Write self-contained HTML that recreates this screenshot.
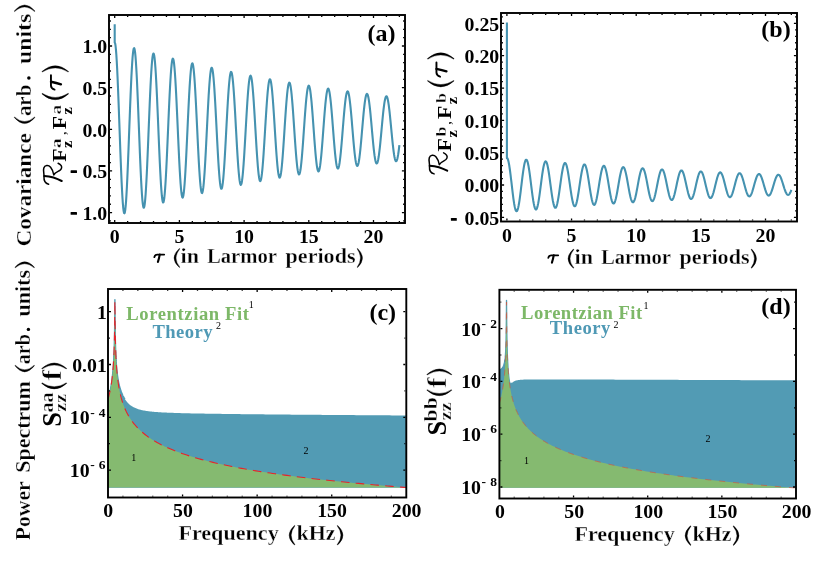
<!DOCTYPE html><html><head><meta charset="utf-8"><title>fig</title><style>html,body{margin:0;padding:0;background:#fff}</style></head><body><svg width="817" height="573" viewBox="0 0 817 573" style="display:block;will-change:transform;font-family:'Liberation Serif',serif;">
<rect width="817" height="573" fill="#fff"/>
<path d="M114.7 24.34 L114.7 42.67 L115.11 43.13 L115.51 45.49 L115.92 49.3 L116.33 54.48 L116.73 60.94 L117.14 68.55 L117.55 77.2 L117.95 86.72 L118.36 96.95 L118.77 107.71 L119.17 118.82 L119.58 130.07 L119.99 141.27 L120.39 152.24 L120.8 162.78 L121.21 172.71 L121.61 181.86 L122.02 190.07 L122.43 197.21 L122.83 203.16 L123.24 207.81 L123.65 211.09 L124.05 212.95 L124.46 213.36 L124.87 212.32 L125.27 209.84 L125.68 205.98 L126.09 200.8 L126.49 194.4 L126.9 186.9 L127.31 178.42 L127.71 169.12 L128.12 159.16 L128.53 148.7 L128.93 137.95 L129.34 127.08 L129.75 116.27 L130.15 105.72 L130.56 95.61 L130.97 86.12 L131.37 77.39 L131.78 69.59 L132.19 62.84 L132.59 57.26 L133 52.94 L133.41 49.96 L133.81 48.35 L134.22 48.15 L134.63 49.35 L135.03 51.93 L135.44 55.84 L135.85 61.01 L136.25 67.34 L136.66 74.72 L137.07 83.03 L137.47 92.11 L137.88 101.81 L138.29 111.96 L138.69 122.37 L139.1 132.88 L139.51 143.29 L139.91 153.44 L140.32 163.13 L140.73 172.21 L141.13 180.53 L141.54 187.93 L141.95 194.3 L142.35 199.53 L142.76 203.53 L143.17 206.24 L143.57 207.6 L143.98 207.61 L144.39 206.27 L144.79 203.6 L145.2 199.66 L145.61 194.5 L146.01 188.24 L146.42 180.98 L146.83 172.84 L147.23 163.98 L147.64 154.54 L148.05 144.69 L148.45 134.61 L148.86 124.46 L149.27 114.43 L149.67 104.68 L150.08 95.38 L150.49 86.7 L150.9 78.78 L151.3 71.76 L151.71 65.75 L152.12 60.85 L152.52 57.16 L152.93 54.72 L153.34 53.58 L153.74 53.75 L154.15 55.22 L154.56 57.97 L154.96 61.95 L155.37 67.07 L155.78 73.26 L156.18 80.4 L156.59 88.37 L157 97.01 L157.4 106.2 L157.81 115.75 L158.22 125.51 L158.62 135.31 L159.03 144.97 L159.44 154.34 L159.84 163.25 L160.25 171.54 L160.66 179.08 L161.06 185.74 L161.47 191.4 L161.88 195.98 L162.28 199.38 L162.69 201.57 L163.1 202.5 L163.5 202.17 L163.91 200.57 L164.32 197.75 L164.72 193.75 L165.13 188.65 L165.54 182.54 L165.94 175.53 L166.35 167.74 L166.76 159.31 L167.16 150.38 L167.57 141.11 L167.98 131.67 L168.38 122.21 L168.79 112.91 L169.2 103.91 L169.6 95.38 L170.01 87.46 L170.42 80.28 L170.82 73.97 L171.23 68.64 L171.64 64.37 L172.04 61.24 L172.45 59.29 L172.86 58.56 L173.26 59.05 L173.67 60.75 L174.08 63.64 L174.48 67.65 L174.89 72.71 L175.3 78.74 L175.7 85.62 L176.11 93.24 L176.52 101.46 L176.92 110.14 L177.33 119.13 L177.74 128.26 L178.14 137.38 L178.55 146.34 L178.96 154.98 L179.36 163.15 L179.77 170.71 L180.18 177.54 L180.58 183.51 L180.99 188.52 L181.4 192.5 L181.8 195.37 L182.21 197.1 L182.62 197.65 L183.02 197.01 L183.43 195.21 L183.84 192.27 L184.24 188.25 L184.65 183.22 L185.06 177.28 L185.46 170.53 L185.87 163.08 L186.28 155.07 L186.68 146.64 L187.09 137.93 L187.5 129.1 L187.9 120.3 L188.31 111.68 L188.72 103.38 L189.12 95.56 L189.53 88.35 L189.94 81.86 L190.34 76.22 L190.75 71.5 L191.16 67.8 L191.56 65.18 L191.97 63.67 L192.38 63.29 L192.78 64.06 L193.19 65.96 L193.6 68.94 L194 72.96 L194.41 77.94 L194.82 83.79 L195.22 90.42 L195.63 97.69 L196.04 105.5 L196.44 113.69 L196.85 122.12 L197.26 130.66 L197.66 139.15 L198.07 147.44 L198.48 155.4 L198.88 162.88 L199.29 169.76 L199.7 175.92 L200.1 181.26 L200.51 185.68 L200.92 189.12 L201.32 191.51 L201.73 192.82 L202.14 193.03 L202.54 192.14 L202.95 190.16 L203.36 187.14 L203.76 183.12 L204.17 178.19 L204.58 172.43 L204.98 165.94 L205.39 158.83 L205.8 151.24 L206.2 143.28 L206.61 135.11 L207.02 126.86 L207.42 118.68 L207.83 110.71 L208.24 103.08 L208.64 95.92 L209.05 89.36 L209.46 83.51 L209.86 78.47 L210.27 74.33 L210.68 71.14 L211.08 68.97 L211.49 67.85 L211.9 67.79 L212.3 68.8 L212.71 70.85 L213.12 73.9 L213.52 77.9 L213.93 82.78 L214.34 88.45 L214.74 94.81 L215.15 101.75 L215.56 109.14 L215.96 116.86 L216.37 124.77 L216.78 132.74 L217.18 140.62 L217.59 148.29 L218 155.61 L218.4 162.45 L218.81 168.69 L219.22 174.24 L219.62 179 L220.03 182.88 L220.44 185.83 L220.84 187.79 L221.25 188.73 L221.66 188.65 L222.07 187.53 L222.47 185.42 L222.88 182.34 L223.29 178.36 L223.69 173.53 L224.1 167.96 L224.51 161.73 L224.91 154.97 L225.32 147.77 L225.73 140.28 L226.13 132.63 L226.54 124.93 L226.95 117.34 L227.35 109.97 L227.76 102.96 L228.17 96.42 L228.57 90.47 L228.98 85.21 L229.39 80.73 L229.79 77.1 L230.2 74.38 L230.61 72.62 L231.01 71.84 L231.42 72.06 L231.83 73.27 L232.23 75.44 L232.64 78.54 L233.05 82.5 L233.45 87.26 L233.86 92.74 L234.27 98.83 L234.67 105.43 L235.08 112.43 L235.49 119.69 L235.89 127.1 L236.3 134.53 L236.71 141.84 L237.11 148.92 L237.52 155.64 L237.93 161.88 L238.33 167.54 L238.74 172.53 L239.15 176.75 L239.55 180.14 L239.96 182.64 L240.37 184.22 L240.77 184.84 L241.18 184.49 L241.59 183.2 L241.99 180.98 L242.4 177.87 L242.81 173.93 L243.21 169.23 L243.62 163.85 L244.03 157.89 L244.43 151.46 L244.84 144.66 L245.25 137.61 L245.65 130.44 L246.06 123.28 L246.47 116.23 L246.87 109.44 L247.28 103 L247.69 97.04 L248.09 91.66 L248.5 86.94 L248.91 82.97 L249.31 79.8 L249.72 77.51 L250.13 76.11 L250.53 75.64 L250.94 76.1 L251.35 77.47 L251.75 79.74 L252.16 82.86 L252.57 86.77 L252.97 91.4 L253.38 96.68 L253.79 102.5 L254.19 108.77 L254.6 115.38 L255.01 122.21 L255.41 129.14 L255.82 136.06 L256.23 142.83 L256.63 149.36 L257.04 155.52 L257.45 161.2 L257.85 166.32 L258.26 170.79 L258.67 174.52 L259.07 177.47 L259.48 179.57 L259.89 180.8 L260.29 181.13 L260.7 180.57 L261.11 179.12 L261.51 176.81 L261.92 173.69 L262.33 169.82 L262.73 165.25 L263.14 160.08 L263.55 154.38 L263.95 148.27 L264.36 141.86 L264.77 135.24 L265.17 128.54 L265.58 121.87 L265.99 115.35 L266.39 109.09 L266.8 103.2 L267.21 97.77 L267.61 92.91 L268.02 88.68 L268.43 85.18 L268.83 82.44 L269.24 80.53 L269.65 79.46 L270.05 79.26 L270.46 79.92 L270.87 81.43 L271.27 83.77 L271.68 86.88 L272.09 90.72 L272.49 95.22 L272.9 100.29 L273.31 105.85 L273.71 111.8 L274.12 118.03 L274.53 124.44 L274.93 130.92 L275.34 137.35 L275.75 143.62 L276.15 149.62 L276.56 155.26 L276.97 160.43 L277.37 165.05 L277.78 169.04 L278.19 172.33 L278.59 174.86 L279 176.61 L279.41 177.52 L279.81 177.61 L280.22 176.85 L280.63 175.28 L281.03 172.92 L281.44 169.81 L281.85 166.01 L282.25 161.58 L282.66 156.62 L283.07 151.19 L283.47 145.4 L283.88 139.35 L284.29 133.14 L284.69 126.88 L285.1 120.69 L285.51 114.66 L285.91 108.9 L286.32 103.51 L286.73 98.58 L287.13 94.2 L287.54 90.44 L287.95 87.36 L288.35 85.01 L288.76 83.43 L289.17 82.66 L289.57 82.69 L289.98 83.52 L290.39 85.15 L290.79 87.53 L291.2 90.63 L291.61 94.39 L292.01 98.74 L292.42 103.6 L292.83 108.9 L293.24 114.53 L293.64 120.41 L294.05 126.41 L294.46 132.46 L294.86 138.43 L295.27 144.22 L295.68 149.74 L296.08 154.89 L296.49 159.58 L296.9 163.74 L297.3 167.29 L297.71 170.17 L298.12 172.34 L298.52 173.76 L298.93 174.4 L299.34 174.27 L299.74 173.35 L300.15 171.68 L300.56 169.28 L300.96 166.2 L301.37 162.49 L301.78 158.21 L302.18 153.45 L302.59 148.28 L303 142.8 L303.4 137.11 L303.81 131.29 L304.22 125.46 L304.62 119.71 L305.03 114.14 L305.44 108.85 L305.84 103.93 L306.25 99.47 L306.66 95.53 L307.06 92.18 L307.47 89.49 L307.88 87.49 L308.28 86.22 L308.69 85.7 L309.1 85.94 L309.5 86.92 L309.91 88.63 L310.32 91.05 L310.72 94.11 L311.13 97.77 L311.54 101.97 L311.94 106.63 L312.35 111.67 L312.76 117 L313.16 122.52 L313.57 128.15 L313.98 133.77 L314.38 139.31 L314.79 144.66 L315.2 149.72 L315.6 154.42 L316.01 158.67 L316.42 162.4 L316.82 165.55 L317.23 168.06 L317.64 169.9 L318.04 171.02 L318.45 171.43 L318.86 171.1 L319.26 170.05 L319.67 168.31 L320.08 165.89 L320.48 162.84 L320.89 159.23 L321.3 155.11 L321.7 150.55 L322.11 145.65 L322.52 140.47 L322.92 135.11 L323.33 129.67 L323.74 124.24 L324.14 118.91 L324.55 113.78 L324.96 108.93 L325.36 104.45 L325.77 100.4 L326.18 96.87 L326.58 93.91 L326.99 91.57 L327.4 89.89 L327.8 88.9 L328.21 88.61 L328.62 89.02 L329.02 90.12 L329.43 91.9 L329.84 94.32 L330.24 97.34 L330.65 100.9 L331.06 104.94 L331.46 109.4 L331.87 114.18 L332.28 119.21 L332.68 124.4 L333.09 129.66 L333.5 134.9 L333.9 140.02 L334.31 144.95 L334.72 149.59 L335.12 153.87 L335.53 157.71 L335.94 161.05 L336.34 163.83 L336.75 166 L337.16 167.54 L337.56 168.41 L337.97 168.6 L338.38 168.11 L338.78 166.95 L339.19 165.15 L339.6 162.73 L340 159.73 L340.41 156.23 L340.82 152.26 L341.22 147.91 L341.63 143.26 L342.04 138.37 L342.44 133.34 L342.85 128.26 L343.26 123.21 L343.66 118.28 L344.07 113.55 L344.48 109.11 L344.88 105.03 L345.29 101.39 L345.7 98.23 L346.1 95.62 L346.51 93.6 L346.92 92.21 L347.32 91.46 L347.73 91.36 L348.14 91.92 L348.54 93.13 L348.95 94.96 L349.36 97.37 L349.76 100.33 L350.17 103.79 L350.58 107.67 L350.98 111.92 L351.39 116.45 L351.8 121.19 L352.2 126.06 L352.61 130.97 L353.02 135.84 L353.42 140.58 L353.83 145.12 L354.24 149.36 L354.64 153.25 L355.05 156.71 L355.46 159.69 L355.86 162.13 L356.27 164 L356.68 165.27 L357.08 165.91 L357.49 165.91 L357.9 165.28 L358.3 164.04 L358.71 162.19 L359.12 159.78 L359.52 156.85 L359.93 153.46 L360.34 149.66 L360.74 145.51 L361.15 141.1 L361.56 136.5 L361.96 131.78 L362.37 127.04 L362.78 122.35 L363.18 117.79 L363.59 113.44 L364 109.39 L364.41 105.68 L364.81 102.4 L365.22 99.59 L365.63 97.3 L366.03 95.57 L366.44 94.43 L366.85 93.9 L367.25 93.98 L367.66 94.67 L368.07 95.95 L368.47 97.81 L368.88 100.21 L369.29 103.1 L369.69 106.44 L370.1 110.16 L370.51 114.21 L370.91 118.5 L371.32 122.97 L371.73 127.53 L372.13 132.11 L372.54 136.63 L372.95 141.01 L373.35 145.17 L373.76 149.05 L374.17 152.57 L374.57 155.69 L374.98 158.33 L375.39 160.47 L375.79 162.06 L376.2 163.09 L376.61 163.52 L377.01 163.36 L377.42 162.62 L377.83 161.3 L378.23 159.43 L378.64 157.05 L379.05 154.19 L379.45 150.91 L379.86 147.27 L380.27 143.33 L380.67 139.15 L381.08 134.82 L381.49 130.41 L381.89 125.99 L382.3 121.64 L382.71 117.43 L383.11 113.44 L383.52 109.74 L383.93 106.38 L384.33 103.44 L384.74 100.94 L385.15 98.95 L385.55 97.48 L385.96 96.57 L386.37 96.23 L386.77 96.46 L387.18 97.25 L387.59 98.6 L387.99 100.48 L388.4 102.85 L388.81 105.66 L389.21 108.88 L389.62 112.44 L390.03 116.29 L390.43 120.34 L390.84 124.54 L391.25 128.81 L391.65 133.08 L392.06 137.27 L392.47 141.31 L392.87 145.13 L393.28 148.66 L393.69 151.85 L394.09 154.64 L394.5 156.99 L394.91 158.85 L395.31 160.19 L395.72 161 L396.13 161.25 L396.53 160.95 L396.94 160.11 L397.35 158.74 L397.75 156.86 L398.16 154.51 L398.57 151.73 L398.97 148.57 L399.38 145.09" fill="none" stroke="#4592b0" stroke-width="2.1" stroke-linejoin="round" stroke-linecap="butt"/>
<rect x="109" y="15" width="296" height="208" fill="none" stroke="#000" stroke-width="1.9"/>
<path d="M127.64 222v-1M127.64 16v1M140.58 222v-1M140.58 16v1M153.52 222v-1M153.52 16v1M166.46 222v-1M166.46 16v1M192.34 222v-1M192.34 16v1M205.28 222v-1M205.28 16v1M218.22 222v-1M218.22 16v1M231.16 222v-1M231.16 16v1M257.04 222v-1M257.04 16v1M269.98 222v-1M269.98 16v1M282.92 222v-1M282.92 16v1M295.86 222v-1M295.86 16v1M321.74 222v-1M321.74 16v1M334.68 222v-1M334.68 16v1M347.62 222v-1M347.62 16v1M360.56 222v-1M360.56 16v1M386.44 222v-1M386.44 16v1M399.38 222v-1M399.38 16v1" stroke="#000" stroke-width="1.3" fill="none"/>
<path d="M114.7 222v-2.1M114.7 16v2.1M179.4 222v-2.1M179.4 16v2.1M244.1 222v-2.1M244.1 16v2.1M308.8 222v-2.1M308.8 16v2.1M373.5 222v-2.1M373.5 16v2.1" stroke="#000" stroke-width="1.3" fill="none"/>
<path d="M110 220.93h0.9M404 220.93h-0.9M110 204.27h0.9M404 204.27h-0.9M110 195.94h0.9M404 195.94h-0.9M110 187.61h0.9M404 187.61h-0.9M110 179.28h0.9M404 179.28h-0.9M110 162.62h0.9M404 162.62h-0.9M110 154.29h0.9M404 154.29h-0.9M110 145.96h0.9M404 145.96h-0.9M110 137.63h0.9M404 137.63h-0.9M110 120.97h0.9M404 120.97h-0.9M110 112.64h0.9M404 112.64h-0.9M110 104.31h0.9M404 104.31h-0.9M110 95.98h0.9M404 95.98h-0.9M110 79.32h0.9M404 79.32h-0.9M110 70.99h0.9M404 70.99h-0.9M110 62.66h0.9M404 62.66h-0.9M110 54.33h0.9M404 54.33h-0.9M110 37.67h0.9M404 37.67h-0.9M110 29.34h0.9M404 29.34h-0.9M110 21.01h0.9M404 21.01h-0.9" stroke="#000" stroke-width="1.3" fill="none"/>
<path d="M110 212.6h2.1M404 212.6h-2.1M110 170.95h2.1M404 170.95h-2.1M110 129.3h2.1M404 129.3h-2.1M110 87.65h2.1M404 87.65h-2.1M110 46h2.1M404 46h-2.1" stroke="#000" stroke-width="1.3" fill="none"/>
<text x="114.7" y="243" font-size="19.8" font-weight="bold" text-anchor="middle" fill="#000"  style="">0</text>
<text x="179.4" y="243" font-size="19.8" font-weight="bold" text-anchor="middle" fill="#000"  style="">5</text>
<text x="244.1" y="243" font-size="19.8" font-weight="bold" text-anchor="middle" fill="#000"  style="">10</text>
<text x="308.8" y="243" font-size="19.8" font-weight="bold" text-anchor="middle" fill="#000"  style="">15</text>
<text x="373.5" y="243" font-size="19.8" font-weight="bold" text-anchor="middle" fill="#000"  style="">20</text>
<text x="107.2" y="53.2" font-size="19.8" font-weight="bold" text-anchor="end" fill="#000"  style="">1.0</text>
<text x="107.2" y="94.85" font-size="19.8" font-weight="bold" text-anchor="end" fill="#000"  style="">0.5</text>
<text x="107.2" y="136.5" font-size="19.8" font-weight="bold" text-anchor="end" fill="#000"  style="">0.0</text>
<text x="107.2" y="178.15" font-size="19.8" font-weight="bold" text-anchor="end" fill="#000"  style="">0.5</text>
<rect x="70.6" y="170.35" width="6.4" height="2.7" rx="0.5" fill="#000"/>
<text x="107.2" y="219.8" font-size="19.8" font-weight="bold" text-anchor="end" fill="#000"  style="">1.0</text>
<rect x="70.6" y="212" width="6.4" height="2.7" rx="0.5" fill="#000"/>
<text x="381.4" y="41.3" font-size="24" font-weight="bold" text-anchor="middle" fill="#000"  style="">(a)</text>
<path d="M506.9 22.41 L506.9 158.17 L507.31 158.12 L507.71 158.86 L508.12 160.05 L508.53 161.66 L508.93 163.68 L509.34 166.05 L509.74 168.75 L510.15 171.72 L510.56 174.91 L510.96 178.27 L511.37 181.73 L511.78 185.24 L512.18 188.73 L512.59 192.15 L513 195.44 L513.4 198.54 L513.81 201.39 L514.21 203.95 L514.62 206.18 L515.03 208.04 L515.43 209.49 L515.84 210.51 L516.25 211.09 L516.65 211.22 L517.06 210.89 L517.47 210.12 L517.87 208.91 L518.28 207.3 L518.68 205.3 L519.09 202.96 L519.5 200.32 L519.9 197.42 L520.31 194.31 L520.72 191.05 L521.12 187.7 L521.53 184.31 L521.94 180.94 L522.34 177.65 L522.75 174.5 L523.15 171.53 L523.56 168.81 L523.97 166.38 L524.37 164.28 L524.78 162.54 L525.19 161.19 L525.59 160.26 L526 159.76 L526.41 159.7 L526.81 160.07 L527.22 160.87 L527.62 162.09 L528.03 163.7 L528.44 165.68 L528.84 167.98 L529.25 170.57 L529.66 173.4 L530.06 176.43 L530.47 179.59 L530.88 182.84 L531.28 186.12 L531.69 189.36 L532.1 192.53 L532.5 195.55 L532.91 198.38 L533.31 200.97 L533.72 203.28 L534.13 205.27 L534.53 206.9 L534.94 208.14 L535.35 208.99 L535.75 209.41 L536.16 209.42 L536.57 209 L536.97 208.17 L537.38 206.93 L537.78 205.33 L538.19 203.38 L538.6 201.11 L539 198.58 L539.41 195.81 L539.82 192.87 L540.22 189.8 L540.63 186.65 L541.04 183.49 L541.44 180.36 L541.85 177.32 L542.25 174.43 L542.66 171.72 L543.07 169.25 L543.47 167.06 L543.88 165.19 L544.29 163.66 L544.69 162.51 L545.1 161.75 L545.51 161.39 L545.91 161.45 L546.32 161.91 L546.72 162.77 L547.13 164 L547.54 165.6 L547.94 167.53 L548.35 169.76 L548.76 172.24 L549.16 174.94 L549.57 177.8 L549.98 180.78 L550.38 183.82 L550.79 186.87 L551.19 189.89 L551.6 192.8 L552.01 195.58 L552.41 198.17 L552.82 200.52 L553.23 202.59 L553.63 204.36 L554.04 205.78 L554.45 206.84 L554.85 207.53 L555.26 207.82 L555.66 207.71 L556.07 207.21 L556.48 206.33 L556.88 205.09 L557.29 203.5 L557.7 201.59 L558.1 199.41 L558.51 196.98 L558.92 194.35 L559.32 191.57 L559.73 188.68 L560.13 185.74 L560.54 182.79 L560.95 179.89 L561.35 177.09 L561.76 174.43 L562.17 171.96 L562.57 169.72 L562.98 167.76 L563.39 166.1 L563.79 164.77 L564.2 163.79 L564.6 163.18 L565.01 162.95 L565.42 163.11 L565.82 163.64 L566.23 164.54 L566.64 165.79 L567.04 167.37 L567.45 169.24 L567.86 171.39 L568.26 173.76 L568.67 176.33 L569.07 179.03 L569.48 181.83 L569.89 184.68 L570.29 187.52 L570.7 190.31 L571.11 193 L571.51 195.55 L571.92 197.9 L572.33 200.03 L572.73 201.89 L573.14 203.45 L573.54 204.69 L573.95 205.59 L574.36 206.12 L574.76 206.3 L575.17 206.1 L575.58 205.53 L575.98 204.62 L576.39 203.37 L576.8 201.8 L577.2 199.95 L577.61 197.85 L578.01 195.52 L578.42 193.03 L578.83 190.4 L579.23 187.69 L579.64 184.94 L580.05 182.19 L580.45 179.51 L580.86 176.93 L581.27 174.49 L581.67 172.24 L582.08 170.22 L582.49 168.46 L582.89 166.99 L583.3 165.84 L583.7 165.02 L584.11 164.55 L584.52 164.44 L584.92 164.68 L585.33 165.27 L585.74 166.2 L586.14 167.45 L586.55 169 L586.96 170.82 L587.36 172.89 L587.77 175.15 L588.17 177.58 L588.58 180.14 L588.99 182.76 L589.39 185.42 L589.8 188.07 L590.21 190.65 L590.61 193.13 L591.02 195.46 L591.43 197.6 L591.83 199.52 L592.24 201.18 L592.64 202.56 L593.05 203.63 L593.46 204.38 L593.86 204.79 L594.27 204.85 L594.68 204.57 L595.08 203.96 L595.49 203.01 L595.9 201.76 L596.3 200.23 L596.71 198.43 L597.11 196.41 L597.52 194.2 L597.93 191.83 L598.33 189.36 L598.74 186.81 L599.15 184.24 L599.55 181.69 L599.96 179.21 L600.37 176.83 L600.77 174.6 L601.18 172.56 L601.58 170.74 L601.99 169.17 L602.4 167.88 L602.8 166.89 L603.21 166.21 L603.62 165.86 L604.02 165.84 L604.43 166.16 L604.84 166.8 L605.24 167.75 L605.65 168.99 L606.05 170.51 L606.46 172.28 L606.87 174.26 L607.27 176.42 L607.68 178.72 L608.09 181.13 L608.49 183.59 L608.9 186.07 L609.31 188.53 L609.71 190.91 L610.12 193.19 L610.52 195.32 L610.93 197.27 L611.34 198.99 L611.74 200.48 L612.15 201.68 L612.56 202.6 L612.96 203.21 L613.37 203.51 L613.78 203.48 L614.18 203.13 L614.59 202.47 L614.99 201.52 L615.4 200.27 L615.81 198.77 L616.21 197.04 L616.62 195.1 L617.03 192.99 L617.43 190.75 L617.84 188.42 L618.25 186.04 L618.65 183.64 L619.06 181.27 L619.46 178.98 L619.87 176.8 L620.28 174.76 L620.68 172.91 L621.09 171.27 L621.5 169.88 L621.9 168.75 L622.31 167.9 L622.72 167.35 L623.12 167.11 L623.53 167.18 L623.93 167.55 L624.34 168.23 L624.75 169.2 L625.15 170.43 L625.56 171.91 L625.97 173.62 L626.37 175.51 L626.78 177.57 L627.19 179.75 L627.59 182.01 L628 184.32 L628.41 186.63 L628.81 188.9 L629.22 191.11 L629.62 193.2 L630.03 195.14 L630.44 196.91 L630.84 198.46 L631.25 199.77 L631.66 200.83 L632.06 201.61 L632.47 202.09 L632.88 202.29 L633.28 202.18 L633.69 201.78 L634.09 201.09 L634.5 200.12 L634.91 198.89 L635.31 197.43 L635.72 195.75 L636.13 193.9 L636.53 191.9 L636.94 189.78 L637.35 187.59 L637.75 185.36 L638.16 183.13 L638.56 180.93 L638.97 178.82 L639.38 176.82 L639.78 174.96 L640.19 173.28 L640.6 171.82 L641 170.58 L641.41 169.59 L641.82 168.88 L642.22 168.45 L642.63 168.3 L643.03 168.44 L643.44 168.87 L643.85 169.58 L644.25 170.55 L644.66 171.76 L645.07 173.21 L645.47 174.85 L645.88 176.66 L646.29 178.61 L646.69 180.67 L647.1 182.79 L647.5 184.95 L647.91 187.1 L648.32 189.21 L648.72 191.24 L649.13 193.16 L649.54 194.93 L649.94 196.52 L650.35 197.91 L650.76 199.07 L651.16 199.99 L651.57 200.64 L651.97 201.02 L652.38 201.13 L652.79 200.95 L653.19 200.5 L653.6 199.78 L654.01 198.81 L654.41 197.61 L654.82 196.19 L655.23 194.58 L655.63 192.81 L656.04 190.9 L656.44 188.91 L656.85 186.85 L657.26 184.76 L657.66 182.69 L658.07 180.66 L658.48 178.71 L658.88 176.88 L659.29 175.19 L659.7 173.68 L660.1 172.36 L660.51 171.27 L660.91 170.42 L661.32 169.82 L661.73 169.49 L662.13 169.43 L662.54 169.64 L662.95 170.11 L663.35 170.83 L663.76 171.8 L664.17 173 L664.57 174.4 L664.98 175.98 L665.38 177.7 L665.79 179.56 L666.2 181.49 L666.6 183.49 L667.01 185.5 L667.42 187.5 L667.82 189.45 L668.23 191.32 L668.64 193.08 L669.04 194.69 L669.45 196.12 L669.85 197.36 L670.26 198.39 L670.67 199.17 L671.07 199.72 L671.48 200 L671.89 200.03 L672.29 199.79 L672.7 199.3 L673.11 198.57 L673.51 197.6 L673.92 196.42 L674.33 195.04 L674.73 193.5 L675.14 191.81 L675.54 190.01 L675.95 188.13 L676.36 186.19 L676.76 184.25 L677.17 182.32 L677.58 180.45 L677.98 178.65 L678.39 176.98 L678.8 175.45 L679.2 174.08 L679.61 172.91 L680.01 171.95 L680.42 171.22 L680.83 170.73 L681.23 170.49 L681.64 170.5 L682.05 170.76 L682.45 171.27 L682.86 172.01 L683.27 172.97 L683.67 174.14 L684.08 175.49 L684.48 177.01 L684.89 178.66 L685.3 180.41 L685.7 182.23 L686.11 184.1 L686.52 185.98 L686.92 187.84 L687.33 189.64 L687.74 191.36 L688.14 192.96 L688.55 194.42 L688.95 195.71 L689.36 196.81 L689.77 197.71 L690.17 198.38 L690.58 198.83 L690.99 199.03 L691.39 198.98 L691.8 198.7 L692.21 198.18 L692.61 197.43 L693.02 196.47 L693.42 195.32 L693.83 193.99 L694.24 192.51 L694.64 190.9 L695.05 189.2 L695.46 187.43 L695.86 185.62 L696.27 183.81 L696.68 182.02 L697.08 180.29 L697.49 178.64 L697.89 177.11 L698.3 175.72 L698.71 174.5 L699.11 173.46 L699.52 172.62 L699.93 172 L700.33 171.61 L700.74 171.44 L701.15 171.52 L701.55 171.82 L701.96 172.36 L702.36 173.11 L702.77 174.06 L703.18 175.2 L703.58 176.5 L703.99 177.95 L704.4 179.52 L704.8 181.17 L705.21 182.89 L705.62 184.64 L706.02 186.39 L706.43 188.11 L706.83 189.77 L707.24 191.35 L707.65 192.81 L708.05 194.13 L708.46 195.29 L708.87 196.27 L709.27 197.05 L709.68 197.62 L710.09 197.97 L710.49 198.1 L710.9 198 L711.3 197.67 L711.71 197.13 L712.12 196.37 L712.52 195.43 L712.93 194.3 L713.34 193.02 L713.74 191.61 L714.15 190.08 L714.56 188.47 L714.96 186.81 L715.37 185.12 L715.77 183.43 L716.18 181.77 L716.59 180.18 L716.99 178.67 L717.4 177.27 L717.81 176.02 L718.21 174.92 L718.62 174 L719.03 173.27 L719.43 172.75 L719.84 172.44 L720.25 172.35 L720.65 172.48 L721.06 172.82 L721.46 173.38 L721.87 174.13 L722.28 175.07 L722.68 176.17 L723.09 177.43 L723.5 178.81 L723.9 180.3 L724.31 181.86 L724.72 183.48 L725.12 185.11 L725.53 186.74 L725.93 188.33 L726.34 189.86 L726.75 191.31 L727.15 192.64 L727.56 193.83 L727.97 194.87 L728.37 195.73 L728.78 196.41 L729.19 196.88 L729.59 197.15 L730 197.21 L730.4 197.06 L730.81 196.7 L731.22 196.14 L731.62 195.39 L732.03 194.46 L732.44 193.37 L732.84 192.14 L733.25 190.78 L733.66 189.34 L734.06 187.82 L734.47 186.26 L734.87 184.68 L735.28 183.11 L735.69 181.57 L736.09 180.11 L736.5 178.73 L736.91 177.46 L737.31 176.33 L737.72 175.35 L738.13 174.54 L738.53 173.91 L738.94 173.47 L739.34 173.24 L739.75 173.21 L740.16 173.39 L740.56 173.76 L740.97 174.33 L741.38 175.08 L741.78 176 L742.19 177.07 L742.6 178.28 L743 179.6 L743.41 181.01 L743.81 182.48 L744.22 183.99 L744.63 185.52 L745.03 187.03 L745.44 188.51 L745.85 189.91 L746.25 191.23 L746.66 192.44 L747.07 193.52 L747.47 194.44 L747.88 195.2 L748.28 195.78 L748.69 196.17 L749.1 196.37 L749.5 196.37 L749.91 196.18 L750.32 195.79 L750.72 195.22 L751.13 194.47 L751.54 193.56 L751.94 192.51 L752.35 191.32 L752.75 190.04 L753.16 188.67 L753.57 187.24 L753.97 185.77 L754.38 184.3 L754.79 182.84 L755.19 181.42 L755.6 180.07 L756.01 178.81 L756.41 177.66 L756.82 176.64 L757.22 175.77 L757.63 175.06 L758.04 174.52 L758.44 174.17 L758.85 174 L759.26 174.03 L759.66 174.24 L760.07 174.64 L760.48 175.22 L760.88 175.96 L761.29 176.86 L761.69 177.9 L762.1 179.06 L762.51 180.31 L762.91 181.64 L763.32 183.03 L763.73 184.45 L764.13 185.87 L764.54 187.28 L764.95 188.64 L765.35 189.93 L765.76 191.13 L766.16 192.23 L766.57 193.2 L766.98 194.02 L767.38 194.68 L767.79 195.18 L768.2 195.49 L768.6 195.63 L769.01 195.58 L769.42 195.35 L769.82 194.94 L770.23 194.36 L770.64 193.62 L771.04 192.73 L771.45 191.71 L771.85 190.58 L772.26 189.36 L772.67 188.06 L773.07 186.72 L773.48 185.34 L773.89 183.97 L774.29 182.62 L774.7 181.31 L775.11 180.07 L775.51 178.92 L775.92 177.88 L776.32 176.97 L776.73 176.19 L777.14 175.57 L777.54 175.12 L777.95 174.84 L778.36 174.73 L778.76 174.8 L779.17 175.05 L779.58 175.47 L779.98 176.05 L780.39 176.79 L780.79 177.66 L781.2 178.66 L781.61 179.77 L782.01 180.96 L782.42 182.22 L782.83 183.52 L783.23 184.85 L783.64 186.17 L784.05 187.47 L784.45 188.73 L784.86 189.91 L785.26 191.01 L785.67 192 L786.08 192.87 L786.48 193.6 L786.89 194.17 L787.3 194.59 L787.7 194.84 L788.11 194.92 L788.52 194.83 L788.92 194.57 L789.33 194.14 L789.73 193.56 L790.14 192.83 L790.55 191.96 L790.95 190.98 L791.36 189.9" fill="none" stroke="#4592b0" stroke-width="2.1" stroke-linejoin="round"/>
<rect x="501" y="13" width="296" height="208.5" fill="none" stroke="#000" stroke-width="1.9"/>
<path d="M519.83 220.5v-1M519.83 14v1M532.76 220.5v-1M532.76 14v1M545.69 220.5v-1M545.69 14v1M558.62 220.5v-1M558.62 14v1M584.48 220.5v-1M584.48 14v1M597.41 220.5v-1M597.41 14v1M610.34 220.5v-1M610.34 14v1M623.27 220.5v-1M623.27 14v1M649.13 220.5v-1M649.13 14v1M662.06 220.5v-1M662.06 14v1M674.99 220.5v-1M674.99 14v1M687.92 220.5v-1M687.92 14v1M713.78 220.5v-1M713.78 14v1M726.71 220.5v-1M726.71 14v1M739.64 220.5v-1M739.64 14v1M752.57 220.5v-1M752.57 14v1M778.43 220.5v-1M778.43 14v1M791.36 220.5v-1M791.36 14v1" stroke="#000" stroke-width="1.3" fill="none"/>
<path d="M506.9 220.5v-2.1M506.9 14v2.1M571.55 220.5v-2.1M571.55 14v2.1M636.2 220.5v-2.1M636.2 14v2.1M700.85 220.5v-2.1M700.85 14v2.1M765.5 220.5v-2.1M765.5 14v2.1" stroke="#000" stroke-width="1.3" fill="none"/>
<path d="M502 210.86h0.9M796 210.86h-0.9M502 204.4h0.9M796 204.4h-0.9M502 197.93h0.9M796 197.93h-0.9M502 191.47h0.9M796 191.47h-0.9M502 178.53h0.9M796 178.53h-0.9M502 172.07h0.9M796 172.07h-0.9M502 165.6h0.9M796 165.6h-0.9M502 159.14h0.9M796 159.14h-0.9M502 146.21h0.9M796 146.21h-0.9M502 139.75h0.9M796 139.75h-0.9M502 133.28h0.9M796 133.28h-0.9M502 126.81h0.9M796 126.81h-0.9M502 113.89h0.9M796 113.89h-0.9M502 107.42h0.9M796 107.42h-0.9M502 100.95h0.9M796 100.95h-0.9M502 94.49h0.9M796 94.49h-0.9M502 81.56h0.9M796 81.56h-0.9M502 75.09h0.9M796 75.09h-0.9M502 68.63h0.9M796 68.63h-0.9M502 62.16h0.9M796 62.16h-0.9M502 49.24h0.9M796 49.24h-0.9M502 42.77h0.9M796 42.77h-0.9M502 36.31h0.9M796 36.31h-0.9M502 29.84h0.9M796 29.84h-0.9M502 16.91h0.9M796 16.91h-0.9" stroke="#000" stroke-width="1.3" fill="none"/>
<path d="M502 217.32h2.1M796 217.32h-2.1M502 185h2.1M796 185h-2.1M502 152.68h2.1M796 152.68h-2.1M502 120.35h2.1M796 120.35h-2.1M502 88.03h2.1M796 88.03h-2.1M502 55.7h2.1M796 55.7h-2.1M502 23.38h2.1M796 23.38h-2.1" stroke="#000" stroke-width="1.3" fill="none"/>
<text x="506.9" y="242.3" font-size="19.8" font-weight="bold" text-anchor="middle" fill="#000"  style="">0</text>
<text x="571.55" y="242.3" font-size="19.8" font-weight="bold" text-anchor="middle" fill="#000"  style="">5</text>
<text x="636.2" y="242.3" font-size="19.8" font-weight="bold" text-anchor="middle" fill="#000"  style="">10</text>
<text x="700.85" y="242.3" font-size="19.8" font-weight="bold" text-anchor="middle" fill="#000"  style="">15</text>
<text x="765.5" y="242.3" font-size="19.8" font-weight="bold" text-anchor="middle" fill="#000"  style="">20</text>
<text x="499.2" y="30.68" font-size="19.8" font-weight="bold" text-anchor="end" fill="#000"  style="">0.25</text>
<text x="499.2" y="63" font-size="19.8" font-weight="bold" text-anchor="end" fill="#000"  style="">0.20</text>
<text x="499.2" y="95.33" font-size="19.8" font-weight="bold" text-anchor="end" fill="#000"  style="">0.15</text>
<text x="499.2" y="127.65" font-size="19.8" font-weight="bold" text-anchor="end" fill="#000"  style="">0.10</text>
<text x="499.2" y="159.98" font-size="19.8" font-weight="bold" text-anchor="end" fill="#000"  style="">0.05</text>
<text x="499.2" y="192.3" font-size="19.8" font-weight="bold" text-anchor="end" fill="#000"  style="">0.00</text>
<text x="499.2" y="224.62" font-size="19.8" font-weight="bold" text-anchor="end" fill="#000"  style="">0.05</text>
<rect x="450.9" y="218.02" width="5.9" height="2.7" rx="0.5" fill="#000"/>
<text x="776" y="37.3" font-size="24" font-weight="bold" text-anchor="middle" fill="#000"  style="">(b)</text>
<path d="M154.3 257.2 Q154.96 254.6 157.08 254.6 L164.2 254.6" fill="none" stroke="#000" stroke-width="1.8" stroke-linecap="round"/><path d="M159.73 254.6 Q158.99 258.76 157.93 261.95" fill="none" stroke="#000" stroke-width="2.1" stroke-linecap="round"/>
<g transform="translate(0 262.9)"><path d="M179.35 -14.5 Q168.65 -4.95 179.35 4.6 L179.9 4.25 Q172.21 -4.95 179.9 -14.15Z" fill="#000" stroke="#000" stroke-width="0.35" stroke-linejoin="round"/></g>
<text x="180.5" y="262.9" font-size="20" font-weight="bold" fill="#000" stroke="#fff" stroke-width="0.3" textLength="18.4" lengthAdjust="spacingAndGlyphs" style="">in</text>
<text x="206.9" y="262.9" font-size="20" font-weight="bold" fill="#000" stroke="#fff" stroke-width="0.3" textLength="70.1" lengthAdjust="spacingAndGlyphs" style="">Larmor</text>
<text x="285.6" y="262.9" font-size="20" font-weight="bold" fill="#000" stroke="#fff" stroke-width="0.3" textLength="69.9" lengthAdjust="spacingAndGlyphs" style="">periods</text>
<g transform="translate(0 262.9)"><path d="M357.65 -14.5 Q367.35 -4.95 357.65 4.6 L357.1 4.25 Q363.78 -4.95 357.1 -14.15Z" fill="#000" stroke="#000" stroke-width="0.35" stroke-linejoin="round"/></g>
<path d="M548.3 257.9 Q548.96 255.3 551.08 255.3 L558.2 255.3" fill="none" stroke="#000" stroke-width="1.8" stroke-linecap="round"/><path d="M553.73 255.3 Q552.99 259.46 551.93 262.66" fill="none" stroke="#000" stroke-width="2.1" stroke-linecap="round"/>
<g transform="translate(0 263.6)"><path d="M573.35 -14.5 Q562.65 -4.95 573.35 4.6 L573.9 4.25 Q566.22 -4.95 573.9 -14.15Z" fill="#000" stroke="#000" stroke-width="0.35" stroke-linejoin="round"/></g>
<text x="574.5" y="263.6" font-size="20" font-weight="bold" fill="#000" stroke="#fff" stroke-width="0.3" textLength="18.4" lengthAdjust="spacingAndGlyphs" style="">in</text>
<text x="600.9" y="263.6" font-size="20" font-weight="bold" fill="#000" stroke="#fff" stroke-width="0.3" textLength="70.1" lengthAdjust="spacingAndGlyphs" style="">Larmor</text>
<text x="679.6" y="263.6" font-size="20" font-weight="bold" fill="#000" stroke="#fff" stroke-width="0.3" textLength="69.9" lengthAdjust="spacingAndGlyphs" style="">periods</text>
<g transform="translate(0 263.6)"><path d="M751.65 -14.5 Q761.35 -4.95 751.65 4.6 L751.1 4.25 Q757.78 -4.95 751.1 -14.15Z" fill="#000" stroke="#000" stroke-width="0.35" stroke-linejoin="round"/></g>
<clipPath id="cc"><rect x="108" y="289" width="298.3" height="208.5"/></clipPath>
<g clip-path="url(#cc)">
<path d="M108 487.8 L108 399.09 L108.28 398.12 L108.57 397.12 L108.85 396.07 L109.13 394.97 L109.42 393.82 L109.7 392.61 L109.98 391.32 L110.27 389.96 L110.55 388.52 L110.83 386.98 L111.12 385.32 L111.4 383.54 L111.68 381.61 L111.97 379.5 L112.25 377.18 L112.53 374.59 L112.82 371.68 L113.1 368.34 L113.38 364.43 L113.67 359.73 L113.68 359.52 L113.69 359.31 L113.7 359.1 L113.71 358.89 L113.72 358.67 L113.73 358.45 L113.75 358.24 L113.76 358.01 L113.77 357.79 L113.78 357.57 L113.79 357.34 L113.8 357.11 L113.81 356.88 L113.82 356.64 L113.84 356.41 L113.85 356.17 L113.86 355.92 L113.87 355.68 L113.88 355.43 L113.89 355.18 L113.9 354.93 L113.91 354.68 L113.92 354.42 L113.94 354.16 L113.95 353.89 L113.96 353.63 L113.97 353.36 L113.98 353.08 L113.99 352.81 L114 352.53 L114.01 352.24 L114.03 351.96 L114.04 351.67 L114.05 351.37 L114.06 351.07 L114.07 350.77 L114.08 350.47 L114.09 350.16 L114.1 349.84 L114.12 349.52 L114.13 349.2 L114.14 348.87 L114.15 348.54 L114.16 348.21 L114.17 347.86 L114.18 347.52 L114.19 347.16 L114.2 346.81 L114.22 346.44 L114.23 346.08 L114.24 345.7 L114.25 345.32 L114.26 344.93 L114.27 344.54 L114.28 344.14 L114.29 343.73 L114.31 343.32 L114.32 342.89 L114.33 342.47 L114.34 342.03 L114.35 341.58 L114.36 341.13 L114.37 340.66 L114.38 340.19 L114.39 339.71 L114.41 339.21 L114.42 338.71 L114.43 338.2 L114.44 337.67 L114.45 337.13 L114.46 336.58 L114.47 336.02 L114.48 335.45 L114.5 334.86 L114.51 334.25 L114.52 333.63 L114.53 332.99 L114.54 332.34 L114.55 331.67 L114.56 330.97 L114.57 330.26 L114.58 329.53 L114.6 328.77 L114.61 328 L114.62 327.19 L114.63 326.36 L114.64 325.5 L114.65 324.62 L114.66 323.7 L114.67 322.75 L114.69 321.76 L114.7 320.74 L114.71 319.68 L114.72 318.57 L114.73 317.43 L114.74 316.24 L114.75 315 L114.76 313.72 L114.78 312.39 L114.79 311.02 L114.8 309.61 L114.81 308.17 L114.82 306.72 L114.83 305.28 L114.84 303.87 L114.85 302.53 L114.86 301.34 L114.88 300.33 L114.89 299.59 L114.9 299.2 L114.91 299.2 L114.92 299.2 L114.93 299.2 L114.94 299.32 L114.95 300.69 L114.97 302.21 L114.98 303.81 L114.99 305.44 L115 307.06 L115.01 308.65 L115.02 310.19 L115.03 311.68 L115.04 313.11 L115.05 314.49 L115.07 315.8 L115.08 317.06 L115.09 318.27 L115.1 319.43 L115.11 320.54 L115.12 321.61 L115.13 322.64 L115.14 323.62 L115.16 324.57 L115.17 325.49 L115.18 326.37 L115.19 327.23 L115.2 328.05 L115.21 328.85 L115.22 329.62 L115.23 330.37 L115.24 331.09 L115.26 331.8 L115.27 332.48 L115.28 333.15 L115.29 333.79 L115.3 334.42 L115.31 335.04 L115.32 335.63 L115.33 336.22 L115.35 336.79 L115.36 337.34 L115.37 337.88 L115.38 338.41 L115.39 338.93 L115.4 339.44 L115.41 339.93 L115.42 340.42 L115.44 340.89 L115.45 341.36 L115.46 341.81 L115.47 342.26 L115.48 342.7 L115.49 343.13 L115.5 343.55 L115.51 343.96 L115.52 344.37 L115.54 344.77 L115.55 345.16 L115.56 345.55 L115.57 345.92 L115.58 346.3 L115.59 346.66 L115.6 347.02 L115.61 347.38 L115.63 347.73 L115.64 348.07 L115.65 348.41 L115.66 348.74 L115.67 349.07 L115.68 349.4 L115.69 349.71 L115.7 350.03 L115.71 350.34 L115.73 350.64 L115.74 350.95 L115.75 351.24 L115.76 351.54 L115.77 351.82 L115.78 352.11 L115.79 352.39 L115.8 352.67 L115.82 352.94 L115.83 353.21 L115.84 353.48 L115.85 353.75 L115.86 354.01 L115.87 354.26 L115.88 354.52 L115.89 354.77 L115.9 355.02 L115.92 355.27 L115.93 355.51 L115.94 355.75 L115.95 355.99 L115.96 356.22 L115.97 356.45 L115.98 356.68 L115.99 356.91 L116.01 357.13 L116.02 357.36 L116.03 357.58 L116.04 357.79 L116.05 358.01 L116.06 358.22 L116.07 358.43 L116.08 358.64 L116.1 358.85 L116.11 359.05 L116.12 359.26 L116.13 359.46 L116.14 359.65 L116.15 359.85 L116.16 360.05 L116.17 360.24 L116.18 360.43 L116.2 360.62 L116.21 360.81 L116.22 360.99 L116.23 361.18 L116.24 361.36 L116.25 361.54 L116.26 361.72 L116.27 361.89 L116.29 362.07 L116.3 362.24 L116.31 362.42 L116.32 362.59 L116.33 362.76 L116.34 362.93 L116.35 363.09 L116.47 364.79 L116.59 366.35 L116.71 367.78 L116.83 369.11 L116.95 370.36 L117.07 371.51 L117.19 372.6 L117.31 373.62 L117.43 374.58 L117.55 375.49 L117.66 376.36 L117.78 377.18 L117.9 377.96 L118.02 378.7 L118.14 379.41 L118.26 380.09 L118.38 380.74 L118.5 381.37 L118.62 381.97 L118.74 382.55 L118.86 383.11 L118.98 383.65 L119.1 384.17 L119.22 384.68 L119.34 385.17 L119.45 385.64 L119.57 386.1 L119.69 386.55 L119.81 386.99 L119.93 387.41 L120.05 387.83 L120.17 388.23 L120.29 388.63 L120.41 389.01 L120.53 389.38 L120.65 389.75 L120.77 390.11 L120.89 390.46 L121.01 390.8 L121.13 391.14 L121.24 391.47 L121.36 391.79 L121.48 392.11 L121.6 392.41 L121.72 392.72 L121.84 393.02 L121.96 393.31 L122.08 393.59 L122.2 393.87 L122.32 394.15 L122.44 394.42 L122.56 394.69 L122.68 394.95 L122.8 395.2 L122.92 395.45 L123.03 395.7 L123.15 395.95 L123.27 396.18 L123.39 396.42 L123.51 396.65 L123.63 396.88 L123.75 397.1 L123.87 397.32 L123.99 397.53 L124.11 397.74 L124.23 397.95 L124.35 398.16 L124.47 398.36 L124.59 398.56 L124.7 398.75 L124.82 398.94 L124.94 399.13 L125.06 399.32 L125.18 399.5 L125.3 399.68 L125.42 399.86 L125.54 400.03 L125.66 400.2 L125.78 400.37 L125.9 400.53 L126.49 401.32 L127.09 402.05 L127.69 402.72 L128.28 403.35 L128.88 403.92 L129.48 404.46 L130.07 404.95 L130.67 405.41 L131.27 405.84 L131.86 406.24 L132.46 406.61 L133.06 406.95 L133.65 407.28 L134.25 407.58 L134.85 407.86 L135.44 408.12 L136.04 408.37 L136.64 408.6 L137.23 408.81 L137.83 409.02 L138.43 409.21 L139.02 409.39 L139.62 409.56 L140.22 409.72 L140.81 409.87 L141.41 410.01 L142.01 410.15 L142.6 410.28 L143.2 410.4 L143.8 410.51 L144.39 410.62 L144.99 410.73 L145.59 410.82 L146.18 410.92 L146.78 411.01 L147.38 411.09 L147.97 411.18 L148.57 411.25 L149.17 411.33 L149.76 411.4 L150.36 411.47 L150.96 411.54 L151.55 411.6 L152.15 411.66 L152.75 411.72 L153.34 411.77 L153.94 411.83 L154.53 411.88 L155.13 411.93 L155.73 411.98 L156.32 412.02 L156.92 412.07 L157.52 412.11 L158.11 412.15 L158.71 412.19 L159.31 412.23 L159.9 412.27 L160.5 412.31 L161.1 412.34 L161.69 412.38 L162.29 412.41 L162.89 412.45 L163.48 412.48 L164.08 412.51 L164.68 412.54 L165.27 412.57 L165.87 412.6 L166.47 412.62 L167.06 412.65 L167.66 412.68 L170.05 412.78 L172.43 412.87 L174.82 412.95 L177.21 413.03 L179.59 413.1 L181.98 413.16 L184.36 413.23 L186.75 413.28 L189.14 413.34 L191.52 413.39 L193.91 413.44 L196.3 413.49 L198.68 413.53 L201.07 413.58 L203.46 413.62 L205.84 413.66 L208.23 413.7 L210.62 413.73 L213 413.77 L215.39 413.81 L217.77 413.84 L220.16 413.87 L222.55 413.91 L224.93 413.94 L227.32 413.97 L229.71 414 L232.09 414.03 L234.48 414.06 L236.87 414.08 L239.25 414.11 L241.64 414.14 L244.02 414.17 L246.41 414.19 L248.8 414.22 L251.18 414.25 L253.57 414.27 L255.96 414.3 L258.34 414.32 L260.73 414.34 L263.12 414.37 L265.5 414.39 L267.89 414.41 L270.28 414.44 L272.66 414.46 L275.05 414.48 L277.43 414.51 L279.82 414.53 L282.21 414.55 L284.59 414.57 L286.98 414.59 L289.37 414.61 L291.75 414.63 L294.14 414.65 L296.53 414.68 L298.91 414.7 L301.3 414.72 L303.68 414.74 L306.07 414.76 L308.46 414.78 L310.84 414.79 L313.23 414.81 L315.62 414.83 L318 414.85 L320.39 414.87 L322.78 414.89 L325.16 414.91 L327.55 414.93 L329.94 414.95 L332.32 414.96 L334.71 414.98 L337.09 415 L339.48 415.02 L341.87 415.04 L344.25 415.05 L346.64 415.07 L349.03 415.09 L351.41 415.11 L353.8 415.12 L356.19 415.14 L358.57 415.16 L360.96 415.17 L363.34 415.19 L365.73 415.21 L368.12 415.22 L370.5 415.24 L372.89 415.26 L375.28 415.27 L377.66 415.29 L380.05 415.31 L382.44 415.32 L384.82 415.34 L387.21 415.36 L389.6 415.37 L391.98 415.39 L394.37 415.4 L396.75 415.42 L399.14 415.43 L401.53 415.45 L403.91 415.46 L406.3 415.48 L406.3 487.8Z" fill="#529bb4"/>
<path d="M108 399.09 L108.28 398.12 L108.57 397.12 L108.85 396.07 L109.13 394.97 L109.42 393.82 L109.7 392.61 L109.98 391.32 L110.27 389.96 L110.55 388.52 L110.83 386.98 L111.12 385.32 L111.4 383.54 L111.68 381.61 L111.97 379.5 L112.25 377.18 L112.53 374.59 L112.82 371.68 L113.1 368.34 L113.38 364.43 L113.67 359.73 L113.68 359.52 L113.69 359.31 L113.7 359.1 L113.71 358.89 L113.72 358.67 L113.73 358.45 L113.75 358.24 L113.76 358.01 L113.77 357.79 L113.78 357.57 L113.79 357.34 L113.8 357.11 L113.81 356.88 L113.82 356.64 L113.84 356.41 L113.85 356.17 L113.86 355.92 L113.87 355.68 L113.88 355.43 L113.89 355.18 L113.9 354.93 L113.91 354.68 L113.92 354.42 L113.94 354.16 L113.95 353.89 L113.96 353.63 L113.97 353.36 L113.98 353.08 L113.99 352.81 L114 352.53 L114.01 352.24 L114.03 351.96 L114.04 351.67 L114.05 351.37 L114.06 351.07 L114.07 350.77 L114.08 350.47 L114.09 350.16 L114.1 349.84 L114.12 349.52 L114.13 349.2 L114.14 348.87 L114.15 348.54 L114.16 348.21 L114.17 347.86 L114.18 347.52 L114.19 347.16 L114.2 346.81 L114.22 346.44 L114.23 346.08 L114.24 345.7 L114.25 345.32 L114.26 344.93 L114.27 344.54 L114.28 344.14 L114.29 343.73 L114.31 343.32 L114.32 342.89 L114.33 342.47 L114.34 342.03 L114.35 341.58 L114.36 341.13 L114.37 340.66 L114.38 340.19 L114.39 339.71 L114.41 339.21 L114.42 338.71 L114.43 338.2 L114.44 337.67 L114.45 337.13 L114.46 336.58 L114.47 336.02 L114.48 335.45 L114.5 334.86 L114.51 334.25 L114.52 333.63 L114.53 332.99 L114.54 332.34 L114.55 331.67 L114.56 330.97 L114.57 330.26 L114.58 329.53 L114.6 328.77 L114.61 328 L114.62 327.19 L114.63 326.36 L114.64 325.5 L114.65 324.62 L114.66 323.7 L114.67 322.75 L114.69 321.76 L114.7 320.74 L114.71 319.68 L114.72 318.57 L114.73 317.43 L114.74 316.24 L114.75 315 L114.76 313.72 L114.78 312.39 L114.79 311.02 L114.8 309.61 L114.81 308.17 L114.82 306.72 L114.83 305.28 L114.84 303.87 L114.85 302.53 L114.86 301.34 L114.88 300.33 L114.89 299.6 L114.9 299.6 L114.91 299.6 L114.92 299.6 L114.93 299.6 L114.94 299.6 L114.95 300.69 L114.97 302.21 L114.98 303.81 L114.99 305.44 L115 307.06 L115.01 308.65 L115.02 310.19 L115.03 311.68 L115.04 313.11 L115.05 314.49 L115.07 315.8 L115.08 317.06 L115.09 318.27 L115.1 319.43 L115.11 320.54 L115.12 321.61 L115.13 322.64 L115.14 323.62 L115.16 324.57 L115.17 325.49 L115.18 326.37 L115.19 327.23 L115.2 328.05 L115.21 328.85 L115.22 329.62 L115.23 330.37 L115.24 331.09 L115.26 331.8 L115.27 332.48 L115.28 333.15 L115.29 333.79 L115.3 334.42 L115.31 335.04 L115.32 335.63 L115.33 336.22 L115.35 336.79 L115.36 337.34 L115.37 337.88 L115.38 338.41 L115.39 338.93 L115.4 339.44 L115.41 339.93 L115.42 340.42 L115.44 340.89 L115.45 341.36 L115.46 341.81 L115.47 342.26 L115.48 342.7 L115.49 343.13 L115.5 343.55 L115.51 343.96 L115.52 344.37 L115.54 344.77 L115.55 345.16 L115.56 345.55 L115.57 345.92 L115.58 346.3 L115.59 346.66 L115.6 347.02 L115.61 347.38 L115.63 347.73 L115.64 348.07 L115.65 348.41 L115.66 348.74 L115.67 349.07 L115.68 349.4 L115.69 349.71 L115.7 350.03 L115.71 350.34 L115.73 350.64 L115.74 350.95 L115.75 351.24 L115.76 351.54 L115.77 351.82 L115.78 352.11 L115.79 352.39 L115.8 352.67 L115.82 352.94 L115.83 353.21 L115.84 353.48 L115.85 353.75 L115.86 354.01 L115.87 354.26 L115.88 354.52 L115.89 354.77 L115.9 355.02 L115.92 355.27 L115.93 355.51 L115.94 355.75 L115.95 355.99 L115.96 356.22 L115.97 356.45 L115.98 356.68 L115.99 356.91 L116.01 357.13 L116.02 357.36 L116.03 357.58 L116.04 357.79 L116.05 358.01 L116.06 358.22 L116.07 358.43 L116.08 358.64 L116.1 358.85 L116.11 359.05 L116.12 359.26 L116.13 359.46 L116.14 359.65 L116.15 359.85 L116.16 360.05 L116.17 360.24 L116.18 360.43 L116.2 360.62 L116.21 360.81 L116.22 360.99 L116.23 361.18 L116.24 361.36 L116.25 361.54 L116.26 361.72 L116.27 361.89 L116.29 362.07 L116.3 362.24 L116.31 362.42 L116.32 362.59 L116.33 362.76 L116.34 362.93 L116.35 363.09 L116.47 364.79 L116.59 366.35 L116.71 367.78 L116.83 369.11 L116.95 370.36 L117.07 371.51 L117.19 372.6 L117.31 373.62 L117.43 374.58 L117.55 375.49 L117.66 376.36 L117.78 377.18 L117.9 377.96 L118.02 378.7 L118.14 379.41 L118.26 380.09 L118.38 380.74 L118.5 381.37 L118.62 381.97 L118.74 382.55 L118.86 383.11 L118.98 383.65 L119.1 384.17 L119.22 384.68 L119.34 385.17 L119.45 385.64 L119.57 386.1 L119.69 386.55 L119.81 386.99 L119.93 387.41 L120.05 387.83 L120.17 388.23 L120.29 388.63 L120.41 389.01 L120.53 389.38 L120.65 389.75 L120.77 390.11 L120.89 390.46 L121.01 390.8 L121.13 391.14 L121.24 391.47 L121.36 391.79 L121.48 392.11 L121.6 392.41 L121.72 392.72 L121.84 393.02 L121.96 393.31 L122.08 393.59 L122.2 393.87 L122.32 394.15 L122.44 394.42 L122.56 394.69 L122.68 394.95 L122.8 395.2 L122.92 395.45 L123.03 395.7 L123.15 395.95 L123.27 396.18 L123.39 396.42 L123.51 396.65 L123.63 396.88 L123.75 397.1 L123.87 397.32 L123.99 397.53 L124.11 397.74 L124.23 397.95 L124.35 398.16 L124.47 398.36 L124.59 398.56 L124.7 398.75 L124.82 398.94 L124.94 399.13" fill="none" stroke="#529bb4" stroke-width="1.3" stroke-linejoin="round"/>
<path d="M108 487.5 L108 399.09 L108.28 398.12 L108.57 397.12 L108.85 396.07 L109.13 394.97 L109.42 393.82 L109.7 392.61 L109.98 391.32 L110.27 389.96 L110.55 388.52 L110.83 386.98 L111.12 385.32 L111.4 383.54 L111.68 381.61 L111.97 379.5 L112.25 377.18 L112.53 374.59 L112.82 371.68 L113.1 368.34 L113.38 364.43 L113.67 359.73 L113.68 359.52 L113.69 359.31 L113.7 359.1 L113.71 358.89 L113.72 358.67 L113.73 358.45 L113.75 358.24 L113.76 358.01 L113.77 357.79 L113.78 357.57 L113.79 357.34 L113.8 357.11 L113.81 356.88 L113.82 356.64 L113.84 356.41 L113.85 356.17 L113.86 355.92 L113.87 355.68 L113.88 355.43 L113.89 355.18 L113.9 354.93 L113.91 354.68 L113.92 354.42 L113.94 354.16 L113.95 353.89 L113.96 353.63 L113.97 353.36 L113.98 353.08 L113.99 352.81 L114 352.53 L114.01 352.24 L114.03 351.96 L114.04 351.67 L114.05 351.37 L114.06 351.07 L114.07 350.77 L114.08 350.47 L114.09 350.16 L114.1 349.84 L114.12 349.52 L114.13 349.2 L114.14 348.87 L114.15 348.54 L114.16 348.21 L114.17 347.86 L114.18 347.52 L114.19 347.16 L114.2 346.81 L114.22 346.44 L114.23 346.08 L114.24 345.7 L114.25 345.32 L114.26 344.93 L114.27 344.54 L114.28 344.14 L114.29 343.73 L114.31 343.32 L114.32 342.89 L114.33 342.47 L114.34 342.03 L114.35 341.58 L114.36 341.13 L114.37 340.66 L114.38 340.19 L114.39 339.71 L114.41 339.21 L114.42 338.71 L114.43 338.2 L114.44 337.67 L114.45 337.13 L114.46 336.58 L114.47 336.02 L114.48 335.45 L114.5 334.86 L114.51 334.25 L114.52 333.63 L114.53 332.99 L114.54 332.34 L114.55 331.67 L114.56 330.97 L114.57 330.26 L114.58 329.53 L114.6 328.77 L114.61 328 L114.62 327.19 L114.63 326.36 L114.64 325.5 L114.65 324.62 L114.66 323.7 L114.67 322.75 L114.69 321.76 L114.7 320.74 L114.71 319.68 L114.72 318.57 L114.73 317.43 L114.74 316.24 L114.75 315 L114.76 313.72 L114.78 312.39 L114.79 311.02 L114.8 309.61 L114.81 308.17 L114.82 306.72 L114.83 305.28 L114.84 303.87 L114.85 302.53 L114.86 301.34 L114.88 300.5 L114.89 300.5 L114.9 300.5 L114.91 300.5 L114.92 300.5 L114.93 300.5 L114.94 300.5 L114.95 300.69 L114.97 302.22 L114.98 303.82 L114.99 305.45 L115 307.07 L115.01 308.66 L115.02 310.2 L115.03 311.69 L115.04 313.12 L115.05 314.5 L115.07 315.82 L115.08 317.08 L115.09 318.29 L115.1 319.45 L115.11 320.56 L115.12 321.63 L115.13 322.66 L115.14 323.65 L115.16 324.6 L115.17 325.52 L115.18 326.4 L115.19 327.26 L115.2 328.09 L115.21 328.89 L115.22 329.66 L115.23 330.41 L115.24 331.14 L115.26 331.85 L115.27 332.54 L115.28 333.21 L115.29 333.86 L115.3 334.49 L115.31 335.11 L115.32 335.71 L115.33 336.29 L115.35 336.87 L115.36 337.43 L115.37 337.97 L115.38 338.51 L115.39 339.03 L115.4 339.54 L115.41 340.04 L115.42 340.53 L115.44 341.01 L115.45 341.48 L115.46 341.94 L115.47 342.39 L115.48 342.83 L115.49 343.27 L115.5 343.69 L115.51 344.11 L115.52 344.53 L115.54 344.93 L115.55 345.33 L115.56 345.72 L115.57 346.1 L115.58 346.48 L115.59 346.86 L115.6 347.22 L115.61 347.58 L115.63 347.94 L115.64 348.29 L115.65 348.63 L115.66 348.97 L115.67 349.31 L115.68 349.64 L115.69 349.96 L115.7 350.29 L115.71 350.6 L115.73 350.91 L115.74 351.22 L115.75 351.53 L115.76 351.83 L115.77 352.12 L115.78 352.42 L115.79 352.71 L115.8 352.99 L115.82 353.27 L115.83 353.55 L115.84 353.83 L115.85 354.1 L115.86 354.37 L115.87 354.64 L115.88 354.9 L115.89 355.16 L115.9 355.42 L115.92 355.67 L115.93 355.92 L115.94 356.17 L115.95 356.42 L115.96 356.66 L115.97 356.9 L115.98 357.14 L115.99 357.38 L116.01 357.61 L116.02 357.84 L116.03 358.07 L116.04 358.3 L116.05 358.52 L116.06 358.74 L116.07 358.96 L116.08 359.18 L116.1 359.4 L116.11 359.61 L116.12 359.83 L116.13 360.04 L116.14 360.24 L116.15 360.45 L116.16 360.66 L116.17 360.86 L116.18 361.06 L116.2 361.26 L116.21 361.46 L116.22 361.65 L116.23 361.85 L116.24 362.04 L116.25 362.23 L116.26 362.42 L116.27 362.61 L116.29 362.8 L116.3 362.98 L116.31 363.16 L116.32 363.35 L116.33 363.53 L116.34 363.71 L116.35 363.89 L116.47 365.7 L116.59 367.39 L116.71 368.96 L116.83 370.43 L116.95 371.82 L117.07 373.12 L117.19 374.36 L117.31 375.53 L117.43 376.65 L117.55 377.71 L117.66 378.73 L117.78 379.71 L117.9 380.64 L118.02 381.54 L118.14 382.41 L118.26 383.24 L118.38 384.05 L118.5 384.83 L118.62 385.58 L118.74 386.31 L118.86 387.02 L118.98 387.71 L119.1 388.38 L119.22 389.03 L119.34 389.66 L119.45 390.27 L119.57 390.87 L119.69 391.46 L119.81 392.03 L119.93 392.58 L120.05 393.13 L120.17 393.66 L120.29 394.18 L120.41 394.68 L120.53 395.18 L120.65 395.67 L120.77 396.14 L120.89 396.61 L121.01 397.07 L121.13 397.52 L121.24 397.96 L121.36 398.39 L121.48 398.82 L121.6 399.24 L121.72 399.65 L121.84 400.05 L121.96 400.45 L122.08 400.84 L122.2 401.22 L122.32 401.6 L122.44 401.97 L122.56 402.33 L122.68 402.69 L122.8 403.05 L122.92 403.4 L123.03 403.74 L123.15 404.08 L123.27 404.41 L123.39 404.74 L123.51 405.07 L123.63 405.39 L123.75 405.71 L123.87 406.02 L123.99 406.33 L124.11 406.63 L124.23 406.93 L124.35 407.23 L124.47 407.52 L124.59 407.81 L124.7 408.1 L124.82 408.38 L124.94 408.66 L125.06 408.93 L125.18 409.21 L125.3 409.48 L125.42 409.74 L125.54 410.01 L125.66 410.27 L125.78 410.52 L125.9 410.78 L126.49 412.01 L127.09 413.19 L127.69 414.31 L128.28 415.38 L128.88 416.4 L129.48 417.38 L130.07 418.32 L130.67 419.23 L131.27 420.1 L131.86 420.94 L132.46 421.76 L133.06 422.54 L133.65 423.3 L134.25 424.04 L134.85 424.76 L135.44 425.45 L136.04 426.13 L136.64 426.78 L137.23 427.42 L137.83 428.05 L138.43 428.65 L139.02 429.25 L139.62 429.82 L140.22 430.39 L140.81 430.94 L141.41 431.48 L142.01 432 L142.6 432.52 L143.2 433.02 L143.8 433.52 L144.39 434 L144.99 434.48 L145.59 434.94 L146.18 435.4 L146.78 435.85 L147.38 436.28 L147.97 436.72 L148.57 437.14 L149.17 437.56 L149.76 437.97 L150.36 438.37 L150.96 438.76 L151.55 439.15 L152.15 439.54 L152.75 439.91 L153.34 440.28 L153.94 440.65 L154.53 441.01 L155.13 441.36 L155.73 441.71 L156.32 442.06 L156.92 442.4 L157.52 442.73 L158.11 443.06 L158.71 443.39 L159.31 443.71 L159.9 444.02 L160.5 444.34 L161.1 444.64 L161.69 444.95 L162.29 445.25 L162.89 445.54 L163.48 445.84 L164.08 446.13 L164.68 446.41 L165.27 446.69 L165.87 446.97 L166.47 447.25 L167.06 447.52 L167.66 447.79 L170.05 448.84 L172.43 449.84 L174.82 450.8 L177.21 451.73 L179.59 452.61 L181.98 453.47 L184.36 454.29 L186.75 455.09 L189.14 455.86 L191.52 456.6 L193.91 457.32 L196.3 458.02 L198.68 458.7 L201.07 459.36 L203.46 460 L205.84 460.62 L208.23 461.23 L210.62 461.82 L213 462.4 L215.39 462.96 L217.77 463.5 L220.16 464.04 L222.55 464.56 L224.93 465.07 L227.32 465.57 L229.71 466.06 L232.09 466.54 L234.48 467.01 L236.87 467.47 L239.25 467.92 L241.64 468.36 L244.02 468.79 L246.41 469.21 L248.8 469.63 L251.18 470.04 L253.57 470.44 L255.96 470.84 L258.34 471.22 L260.73 471.6 L263.12 471.98 L265.5 472.35 L267.89 472.71 L270.28 473.07 L272.66 473.42 L275.05 473.77 L277.43 474.11 L279.82 474.44 L282.21 474.78 L284.59 475.1 L286.98 475.42 L289.37 475.74 L291.75 476.05 L294.14 476.36 L296.53 476.67 L298.91 476.97 L301.3 477.26 L303.68 477.56 L306.07 477.84 L308.46 478.13 L310.84 478.41 L313.23 478.69 L315.62 478.97 L318 479.24 L320.39 479.51 L322.78 479.77 L325.16 480.03 L327.55 480.29 L329.94 480.55 L332.32 480.8 L334.71 481.05 L337.09 481.3 L339.48 481.55 L341.87 481.79 L344.25 482.03 L346.64 482.27 L349.03 482.5 L351.41 482.74 L353.8 482.97 L356.19 483.19 L358.57 483.42 L360.96 483.64 L363.34 483.86 L365.73 484.08 L368.12 484.3 L370.5 484.52 L372.89 484.73 L375.28 484.94 L377.66 485.15 L380.05 485.36 L382.44 485.56 L384.82 485.77 L387.21 485.97 L389.6 486.17 L391.98 486.37 L394.37 486.56 L396.75 486.76 L399.14 486.95 L401.53 487.15 L403.91 487.34 L406.3 487.5 L406.3 487.5Z" fill="#85ba70"/>
<path d="M108 399.09 L108.28 398.12 L108.57 397.12 L108.85 396.07 L109.13 394.97 L109.42 393.82 L109.7 392.61 L109.98 391.32 L110.27 389.96 L110.55 388.52 L110.83 386.98 L111.12 385.32 L111.4 383.54 L111.68 381.61 L111.97 379.5 L112.25 377.18 L112.53 374.59 L112.82 371.68 L113.1 368.34 L113.38 364.43 L113.67 359.73 L113.68 359.52 L113.69 359.31 L113.7 359.1 L113.71 358.89 L113.72 358.67 L113.73 358.45 L113.75 358.24 L113.76 358.01 L113.77 357.79 L113.78 357.57 L113.79 357.34 L113.8 357.11 L113.81 356.88 L113.82 356.64 L113.84 356.41 L113.85 356.17 L113.86 355.92 L113.87 355.68 L113.88 355.43 L113.89 355.18 L113.9 354.93 L113.91 354.68 L113.92 354.42 L113.94 354.16 L113.95 353.89 L113.96 353.63 L113.97 353.36 L113.98 353.08 L113.99 352.81 L114 352.53 L114.01 352.24 L114.03 351.96 L114.04 351.67 L114.05 351.37 L114.06 351.07 L114.07 350.77 L114.08 350.47 L114.09 350.16 L114.1 349.84 L114.12 349.52 L114.13 349.2 L114.14 348.87 L114.15 348.54 L114.16 348.21 L114.17 347.86 L114.18 347.52 L114.19 347.16 L114.2 346.81 L114.22 346.44 L114.23 346.08 L114.24 345.7 L114.25 345.32 L114.26 344.93 L114.27 344.54 L114.28 344.14 L114.29 343.73 L114.31 343.32 L114.32 342.89 L114.33 342.47 L114.34 342.03 L114.35 341.58 L114.36 341.13 L114.37 340.66 L114.38 340.19 L114.39 339.71 L114.41 339.21 L114.42 338.71 L114.43 338.2 L114.44 337.67 L114.45 337.13 L114.46 336.58 L114.47 336.02 L114.48 335.45 L114.5 334.86 L114.51 334.25 L114.52 333.63 L114.53 332.99 L114.54 332.34 L114.55 331.67 L114.56 330.97 L114.57 330.26 L114.58 329.53 L114.6 328.77 L114.61 328 L114.62 327.19 L114.63 326.36 L114.64 325.5 L114.65 324.62 L114.66 323.7 L114.67 322.75 L114.69 321.76 L114.7 320.74 L114.71 319.68 L114.72 318.57 L114.73 317.43 L114.74 316.24 L114.75 315 L114.76 313.72 L114.78 312.39 L114.79 311.02 L114.8 309.61 L114.81 308.17 L114.82 306.72 L114.83 305.28 L114.84 303.87 L114.85 302.53 L114.86 301.34 L114.88 301 L114.89 301 L114.9 301 L114.91 301 L114.92 301 L114.93 301 L114.94 301 L114.95 301 L114.97 302.22 L114.98 303.82 L114.99 305.45 L115 307.07 L115.01 308.66 L115.02 310.2 L115.03 311.69 L115.04 313.12 L115.05 314.5 L115.07 315.82 L115.08 317.08 L115.09 318.29 L115.1 319.45 L115.11 320.56 L115.12 321.63 L115.13 322.66 L115.14 323.65 L115.16 324.6 L115.17 325.52 L115.18 326.4 L115.19 327.26 L115.2 328.09 L115.21 328.89 L115.22 329.66 L115.23 330.41 L115.24 331.14 L115.26 331.85 L115.27 332.54 L115.28 333.21 L115.29 333.86 L115.3 334.49 L115.31 335.11 L115.32 335.71 L115.33 336.29 L115.35 336.87 L115.36 337.43 L115.37 337.97 L115.38 338.51 L115.39 339.03 L115.4 339.54 L115.41 340.04 L115.42 340.53 L115.44 341.01 L115.45 341.48 L115.46 341.94 L115.47 342.39 L115.48 342.83 L115.49 343.27 L115.5 343.69 L115.51 344.11 L115.52 344.53 L115.54 344.93 L115.55 345.33 L115.56 345.72 L115.57 346.1 L115.58 346.48 L115.59 346.86 L115.6 347.22 L115.61 347.58 L115.63 347.94 L115.64 348.29 L115.65 348.63 L115.66 348.97 L115.67 349.31 L115.68 349.64 L115.69 349.96 L115.7 350.29 L115.71 350.6 L115.73 350.91 L115.74 351.22 L115.75 351.53 L115.76 351.83 L115.77 352.12 L115.78 352.42 L115.79 352.71 L115.8 352.99 L115.82 353.27 L115.83 353.55 L115.84 353.83 L115.85 354.1 L115.86 354.37 L115.87 354.64 L115.88 354.9 L115.89 355.16 L115.9 355.42 L115.92 355.67 L115.93 355.92 L115.94 356.17 L115.95 356.42 L115.96 356.66 L115.97 356.9 L115.98 357.14 L115.99 357.38 L116.01 357.61 L116.02 357.84 L116.03 358.07 L116.04 358.3 L116.05 358.52 L116.06 358.74 L116.07 358.96 L116.08 359.18 L116.1 359.4 L116.11 359.61 L116.12 359.83 L116.13 360.04 L116.14 360.24 L116.15 360.45 L116.16 360.66 L116.17 360.86 L116.18 361.06 L116.2 361.26 L116.21 361.46 L116.22 361.65 L116.23 361.85 L116.24 362.04 L116.25 362.23 L116.26 362.42 L116.27 362.61 L116.29 362.8 L116.3 362.98 L116.31 363.16 L116.32 363.35 L116.33 363.53 L116.34 363.71 L116.35 363.89 L116.47 365.7 L116.59 367.39 L116.71 368.96 L116.83 370.43 L116.95 371.82 L117.07 373.12 L117.19 374.36 L117.31 375.53 L117.43 376.65 L117.55 377.71 L117.66 378.73 L117.78 379.71 L117.9 380.64 L118.02 381.54 L118.14 382.41 L118.26 383.24 L118.38 384.05 L118.5 384.83 L118.62 385.58 L118.74 386.31 L118.86 387.02 L118.98 387.71 L119.1 388.38 L119.22 389.03 L119.34 389.66 L119.45 390.27 L119.57 390.87 L119.69 391.46 L119.81 392.03 L119.93 392.58 L120.05 393.13 L120.17 393.66 L120.29 394.18 L120.41 394.68 L120.53 395.18 L120.65 395.67 L120.77 396.14 L120.89 396.61 L121.01 397.07 L121.13 397.52 L121.24 397.96 L121.36 398.39 L121.48 398.82 L121.6 399.24 L121.72 399.65 L121.84 400.05 L121.96 400.45 L122.08 400.84 L122.2 401.22 L122.32 401.6 L122.44 401.97 L122.56 402.33 L122.68 402.69 L122.8 403.05 L122.92 403.4 L123.03 403.74 L123.15 404.08 L123.27 404.41 L123.39 404.74 L123.51 405.07 L123.63 405.39 L123.75 405.71 L123.87 406.02 L123.99 406.33 L124.11 406.63 L124.23 406.93 L124.35 407.23 L124.47 407.52 L124.59 407.81 L124.7 408.1 L124.82 408.38 L124.94 408.66 L125.06 408.93 L125.18 409.21 L125.3 409.48 L125.42 409.74 L125.54 410.01 L125.66 410.27 L125.78 410.52 L125.9 410.78 L126.49 412.01 L127.09 413.19 L127.69 414.31 L128.28 415.38 L128.88 416.4 L129.48 417.38 L130.07 418.32 L130.67 419.23 L131.27 420.1 L131.86 420.94 L132.46 421.76 L133.06 422.54 L133.65 423.3 L134.25 424.04 L134.85 424.76 L135.44 425.45 L136.04 426.13 L136.64 426.78 L137.23 427.42 L137.83 428.05 L138.43 428.65 L139.02 429.25 L139.62 429.82 L140.22 430.39 L140.81 430.94 L141.41 431.48 L142.01 432 L142.6 432.52 L143.2 433.02 L143.8 433.52 L144.39 434 L144.99 434.48 L145.59 434.94 L146.18 435.4 L146.78 435.85 L147.38 436.28 L147.97 436.72 L148.57 437.14 L149.17 437.56 L149.76 437.97 L150.36 438.37 L150.96 438.76 L151.55 439.15 L152.15 439.54 L152.75 439.91 L153.34 440.28 L153.94 440.65 L154.53 441.01 L155.13 441.36 L155.73 441.71 L156.32 442.06 L156.92 442.4 L157.52 442.73 L158.11 443.06 L158.71 443.39 L159.31 443.71 L159.9 444.02 L160.5 444.34 L161.1 444.64 L161.69 444.95 L162.29 445.25 L162.89 445.54 L163.48 445.84 L164.08 446.13 L164.68 446.41 L165.27 446.69 L165.87 446.97 L166.47 447.25 L167.06 447.52 L167.66 447.79 L170.05 448.84 L172.43 449.84 L174.82 450.8 L177.21 451.73 L179.59 452.61 L181.98 453.47 L184.36 454.29 L186.75 455.09 L189.14 455.86 L191.52 456.6 L193.91 457.32 L196.3 458.02 L198.68 458.7 L201.07 459.36 L203.46 460 L205.84 460.62 L208.23 461.23 L210.62 461.82 L213 462.4 L215.39 462.96 L217.77 463.5 L220.16 464.04 L222.55 464.56 L224.93 465.07 L227.32 465.57 L229.71 466.06 L232.09 466.54 L234.48 467.01 L236.87 467.47 L239.25 467.92 L241.64 468.36 L244.02 468.79 L246.41 469.21 L248.8 469.63 L251.18 470.04 L253.57 470.44 L255.96 470.84 L258.34 471.22 L260.73 471.6 L263.12 471.98 L265.5 472.35 L267.89 472.71 L270.28 473.07 L272.66 473.42 L275.05 473.77 L277.43 474.11 L279.82 474.44 L282.21 474.78 L284.59 475.1 L286.98 475.42 L289.37 475.74 L291.75 476.05 L294.14 476.36 L296.53 476.67 L298.91 476.97 L301.3 477.26 L303.68 477.56 L306.07 477.84 L308.46 478.13 L310.84 478.41 L313.23 478.69 L315.62 478.97 L318 479.24 L320.39 479.51 L322.78 479.77 L325.16 480.03 L327.55 480.29 L329.94 480.55 L332.32 480.8 L334.71 481.05 L337.09 481.3 L339.48 481.55 L341.87 481.79 L344.25 482.03 L346.64 482.27 L349.03 482.5 L351.41 482.74 L353.8 482.97 L356.19 483.19 L358.57 483.42 L360.96 483.64 L363.34 483.86 L365.73 484.08 L368.12 484.3 L370.5 484.52 L372.89 484.73 L375.28 484.94 L377.66 485.15 L380.05 485.36 L382.44 485.56 L384.82 485.77 L387.21 485.97 L389.6 486.17 L391.98 486.37 L394.37 486.56 L396.75 486.76 L399.14 486.95 L401.53 487.15 L403.91 487.34 L406.3 487.5" fill="none" stroke="#e8232a" stroke-width="1.1" stroke-dasharray="8.6 6.2"/>
</g>
<rect x="108" y="289" width="298.3" height="208.5" fill="none" stroke="#000" stroke-width="1.9"/>
<path d="M122.92 496.5v-0.8M122.92 290v0.8M137.83 496.5v-0.8M137.83 290v0.8M152.75 496.5v-0.8M152.75 290v0.8M167.66 496.5v-0.8M167.66 290v0.8M197.49 496.5v-0.8M197.49 290v0.8M212.41 496.5v-0.8M212.41 290v0.8M227.32 496.5v-0.8M227.32 290v0.8M242.24 496.5v-0.8M242.24 290v0.8M272.06 496.5v-0.8M272.06 290v0.8M286.98 496.5v-0.8M286.98 290v0.8M301.89 496.5v-0.8M301.89 290v0.8M316.81 496.5v-0.8M316.81 290v0.8M346.64 496.5v-0.8M346.64 290v0.8M361.56 496.5v-0.8M361.56 290v0.8M376.47 496.5v-0.8M376.47 290v0.8M391.38 496.5v-0.8M391.38 290v0.8" stroke="#000" stroke-width="1.3" fill="none"/>
<path d="M182.57 496.5v-1.9M182.57 290v1.9M257.15 496.5v-1.9M257.15 290v1.9M331.73 496.5v-1.9M331.73 290v1.9" stroke="#000" stroke-width="1.3" fill="none"/>
<path d="M109 338.1h0.9M405.3 338.1h-0.9M109 390.9h0.9M405.3 390.9h-0.9M109 443.7h0.9M405.3 443.7h-0.9" stroke="#000" stroke-width="1.3" fill="none"/>
<path d="M109 311.7h2M405.3 311.7h-2M109 364.5h2M405.3 364.5h-2M109 417.3h2M405.3 417.3h-2M109 470.1h2M405.3 470.1h-2" stroke="#000" stroke-width="1.3" fill="none"/>
<text x="108.3" y="517.4" font-size="19.8" font-weight="bold" text-anchor="middle" fill="#000"  style="">0</text>
<text x="182.88" y="517.4" font-size="19.8" font-weight="bold" text-anchor="middle" fill="#000"  style="">50</text>
<text x="257.45" y="517.4" font-size="19.8" font-weight="bold" text-anchor="middle" fill="#000"  style="">100</text>
<text x="332.03" y="517.4" font-size="19.8" font-weight="bold" text-anchor="middle" fill="#000"  style="">150</text>
<text x="406.6" y="517.4" font-size="19.8" font-weight="bold" text-anchor="middle" fill="#000"  style="">200</text>
<text x="106.8" y="318.7" font-size="19.8" font-weight="bold" text-anchor="end" fill="#000"  style="">1</text>
<text x="106.8" y="371.5" font-size="19.8" font-weight="bold" text-anchor="end" fill="#000"  style="">0.01</text>
<text x="89.6" y="424.3" font-size="19.8" font-weight="bold" text-anchor="end" fill="#000"  style="">10</text>
<text x="90.2" y="416.5" font-size="13.5" font-weight="bold" text-anchor="start" fill="#000"  style="">-</text>
<text x="105.6" y="416.5" font-size="13.5" font-weight="bold" text-anchor="end" fill="#000"  style="">4</text>
<text x="89.6" y="477.1" font-size="19.8" font-weight="bold" text-anchor="end" fill="#000"  style="">10</text>
<text x="90.2" y="469.3" font-size="13.5" font-weight="bold" text-anchor="start" fill="#000"  style="">-</text>
<text x="105.6" y="469.3" font-size="13.5" font-weight="bold" text-anchor="end" fill="#000"  style="">6</text>
<text x="382.8" y="320.4" font-size="24" font-weight="bold" text-anchor="middle" fill="#000"  style="">(c)</text>
<text x="126.3" y="319.9" font-size="18.6" font-weight="bold" fill="#7db868" textLength="122.6" lengthAdjust="spacing">Lorentzian Fit</text>
<text x="152.4" y="337.5" font-size="18.6" font-weight="bold" fill="#4f99b5" textLength="60.2" lengthAdjust="spacing">Theory</text>
<text x="248.8" y="307.7" font-size="10" font-weight="normal" text-anchor="start" fill="#000"  style="">1</text>
<text x="215.9" y="329.3" font-size="10" font-weight="normal" text-anchor="start" fill="#000"  style="">2</text>
<text x="133.7" y="461" font-size="10" font-weight="normal" text-anchor="middle" fill="#000"  style="">1</text>
<text x="306" y="454.2" font-size="10" font-weight="normal" text-anchor="middle" fill="#000"  style="">2</text>
<clipPath id="cd"><rect x="499.4" y="289.8" width="296.6" height="208.7"/></clipPath>
<g clip-path="url(#cd)">
<path d="M499.4 487.8 L499.4 369.8 L499.68 369.73 L499.96 369.64 L500.25 369.53 L500.53 369.38 L500.81 369.21 L501.09 369.01 L501.37 368.77 L501.65 368.5 L501.94 368.2 L502.22 367.86 L502.5 367.47 L502.78 367.04 L503.06 366.54 L503.34 365.98 L503.63 365.32 L503.91 364.55 L504.19 363.62 L504.47 362.46 L504.75 360.98 L505.04 359.01 L505.05 358.92 L505.06 358.83 L505.07 358.73 L505.08 358.64 L505.09 358.54 L505.1 358.45 L505.11 358.35 L505.12 358.25 L505.14 358.14 L505.15 358.04 L505.16 357.94 L505.17 357.83 L505.18 357.72 L505.19 357.61 L505.2 357.5 L505.21 357.39 L505.22 357.28 L505.24 357.16 L505.25 357.04 L505.26 356.93 L505.27 356.81 L505.28 356.68 L505.29 356.56 L505.3 356.43 L505.31 356.3 L505.32 356.17 L505.34 356.04 L505.35 355.91 L505.36 355.77 L505.37 355.63 L505.38 355.49 L505.39 355.35 L505.4 355.2 L505.41 355.06 L505.42 354.91 L505.44 354.75 L505.45 354.6 L505.46 354.44 L505.47 354.28 L505.48 354.12 L505.49 353.95 L505.5 353.79 L505.51 353.61 L505.52 353.44 L505.54 353.26 L505.55 353.08 L505.56 352.9 L505.57 352.71 L505.58 352.52 L505.59 352.33 L505.6 352.13 L505.61 351.93 L505.62 351.73 L505.64 351.52 L505.65 351.31 L505.66 351.09 L505.67 350.87 L505.68 350.65 L505.69 350.42 L505.7 350.19 L505.71 349.95 L505.72 349.71 L505.74 349.46 L505.75 349.21 L505.76 348.95 L505.77 348.69 L505.78 348.42 L505.79 348.15 L505.8 347.87 L505.81 347.58 L505.83 347.29 L505.84 347 L505.85 346.69 L505.86 346.38 L505.87 346.07 L505.88 345.74 L505.89 345.41 L505.9 345.07 L505.91 344.72 L505.93 344.37 L505.94 344.01 L505.95 343.63 L505.96 343.25 L505.97 342.86 L505.98 342.46 L505.99 342.05 L506 341.63 L506.01 341.2 L506.03 340.76 L506.04 340.31 L506.05 339.84 L506.06 339.36 L506.07 338.87 L506.08 338.36 L506.09 337.84 L506.1 337.31 L506.11 336.76 L506.13 336.19 L506.14 335.61 L506.15 335 L506.16 334.38 L506.17 333.74 L506.18 333.07 L506.19 332.39 L506.2 331.68 L506.21 330.95 L506.23 330.19 L506.24 329.4 L506.25 328.58 L506.26 327.73 L506.27 326.85 L506.28 325.94 L506.29 324.98 L506.3 323.99 L506.31 322.95 L506.33 321.87 L506.34 320.74 L506.35 319.57 L506.36 318.33 L506.37 317.05 L506.38 315.71 L506.39 314.31 L506.4 312.85 L506.41 311.35 L506.43 309.8 L506.44 308.22 L506.45 306.64 L506.46 305.09 L506.47 303.62 L506.48 302.3 L506.49 301.22 L506.5 300.46 L506.51 300.09 L506.53 300.21 L506.54 300.71 L506.55 301.59 L506.56 302.76 L506.57 304.15 L506.58 305.66 L506.59 307.23 L506.6 308.83 L506.61 310.41 L506.63 311.96 L506.64 313.46 L506.65 314.92 L506.66 316.31 L506.67 317.65 L506.68 318.94 L506.69 320.18 L506.7 321.36 L506.71 322.49 L506.73 323.59 L506.74 324.63 L506.75 325.64 L506.76 326.61 L506.77 327.55 L506.78 328.45 L506.79 329.32 L506.8 330.16 L506.81 330.97 L506.83 331.76 L506.84 332.53 L506.85 333.26 L506.86 333.98 L506.87 334.68 L506.88 335.36 L506.89 336.02 L506.9 336.66 L506.92 337.28 L506.93 337.89 L506.94 338.48 L506.95 339.06 L506.96 339.63 L506.97 340.18 L506.98 340.72 L506.99 341.25 L507 341.76 L507.02 342.27 L507.03 342.76 L507.04 343.24 L507.05 343.72 L507.06 344.18 L507.07 344.64 L507.08 345.08 L507.09 345.52 L507.1 345.95 L507.12 346.37 L507.13 346.79 L507.14 347.2 L507.15 347.6 L507.16 347.99 L507.17 348.38 L507.18 348.76 L507.19 349.13 L507.2 349.5 L507.22 349.86 L507.23 350.22 L507.24 350.57 L507.25 350.92 L507.26 351.26 L507.27 351.6 L507.28 351.93 L507.29 352.26 L507.3 352.58 L507.32 352.9 L507.33 353.21 L507.34 353.52 L507.35 353.83 L507.36 354.13 L507.37 354.43 L507.38 354.72 L507.39 355.02 L507.4 355.3 L507.42 355.59 L507.43 355.87 L507.44 356.14 L507.45 356.42 L507.46 356.69 L507.47 356.96 L507.48 357.22 L507.49 357.48 L507.5 357.74 L507.52 358 L507.53 358.25 L507.54 358.5 L507.55 358.75 L507.56 358.99 L507.57 359.24 L507.58 359.48 L507.59 359.71 L507.6 359.95 L507.62 360.18 L507.63 360.41 L507.64 360.64 L507.65 360.87 L507.66 361.09 L507.67 361.32 L507.68 361.54 L507.69 361.75 L507.7 361.97 L507.82 364.16 L507.94 366.17 L508.06 368.01 L508.18 369.72 L508.3 371.31 L508.42 372.78 L508.54 374.14 L508.65 375.4 L508.77 376.56 L508.89 377.63 L509.01 378.59 L509.13 379.47 L509.25 380.25 L509.37 380.94 L509.48 381.54 L509.6 382.06 L509.72 382.49 L509.84 382.85 L509.96 383.15 L510.08 383.38 L510.2 383.55 L510.31 383.68 L510.43 383.76 L510.55 383.8 L510.67 383.81 L510.79 383.8 L510.91 383.76 L511.03 383.7 L511.15 383.63 L511.26 383.55 L511.38 383.46 L511.5 383.36 L511.62 383.26 L511.74 383.15 L511.86 383.04 L511.98 382.93 L512.09 382.82 L512.21 382.71 L512.33 382.61 L512.45 382.5 L512.57 382.4 L512.69 382.3 L512.81 382.2 L512.92 382.11 L513.04 382.02 L513.16 381.93 L513.28 381.84 L513.4 381.76 L513.52 381.68 L513.64 381.6 L513.76 381.53 L513.87 381.46 L513.99 381.39 L514.11 381.32 L514.23 381.26 L514.35 381.19 L514.47 381.14 L514.59 381.08 L514.7 381.02 L514.82 380.97 L514.94 380.92 L515.06 380.87 L515.18 380.83 L515.3 380.78 L515.42 380.74 L515.54 380.7 L515.65 380.66 L515.77 380.62 L515.89 380.58 L516.01 380.54 L516.13 380.51 L516.25 380.48 L516.37 380.44 L516.48 380.41 L516.6 380.38 L516.72 380.35 L516.84 380.33 L516.96 380.3 L517.08 380.27 L517.2 380.25 L517.79 380.14 L518.38 380.04 L518.98 379.96 L519.57 379.89 L520.16 379.83 L520.76 379.78 L521.35 379.74 L521.94 379.7 L522.53 379.66 L523.13 379.63 L523.72 379.61 L524.31 379.58 L524.91 379.56 L525.5 379.54 L526.09 379.53 L526.69 379.51 L527.28 379.5 L527.87 379.49 L528.47 379.48 L529.06 379.47 L529.65 379.46 L530.25 379.45 L530.84 379.45 L531.43 379.44 L532.03 379.43 L532.62 379.43 L533.21 379.42 L533.81 379.42 L534.4 379.42 L534.99 379.41 L535.59 379.41 L536.18 379.41 L536.77 379.41 L537.36 379.41 L537.96 379.4 L538.55 379.4 L539.14 379.4 L539.74 379.4 L540.33 379.4 L540.92 379.4 L541.52 379.4 L542.11 379.4 L542.7 379.4 L543.3 379.4 L543.89 379.4 L544.48 379.4 L545.08 379.4 L545.67 379.4 L546.26 379.4 L546.86 379.4 L547.45 379.4 L548.04 379.4 L548.64 379.4 L549.23 379.4 L549.82 379.4 L550.42 379.41 L551.01 379.41 L551.6 379.41 L552.19 379.41 L552.79 379.41 L553.38 379.41 L553.97 379.41 L554.57 379.41 L555.16 379.42 L555.75 379.42 L556.35 379.42 L556.94 379.42 L557.53 379.42 L558.13 379.42 L558.72 379.42 L561.09 379.43 L563.47 379.44 L565.84 379.45 L568.21 379.45 L570.58 379.46 L572.96 379.47 L575.33 379.48 L577.7 379.49 L580.08 379.49 L582.45 379.5 L584.82 379.51 L587.19 379.52 L589.57 379.53 L591.94 379.54 L594.31 379.55 L596.68 379.56 L599.06 379.56 L601.43 379.57 L603.8 379.58 L606.18 379.59 L608.55 379.6 L610.92 379.61 L613.29 379.62 L615.67 379.63 L618.04 379.64 L620.41 379.65 L622.79 379.66 L625.16 379.67 L627.53 379.67 L629.9 379.68 L632.28 379.69 L634.65 379.7 L637.02 379.71 L639.4 379.72 L641.77 379.73 L644.14 379.74 L646.51 379.75 L648.89 379.76 L651.26 379.77 L653.63 379.78 L656 379.79 L658.38 379.8 L660.75 379.81 L663.12 379.81 L665.5 379.82 L667.87 379.83 L670.24 379.84 L672.61 379.85 L674.99 379.86 L677.36 379.87 L679.73 379.88 L682.11 379.89 L684.48 379.9 L686.85 379.91 L689.22 379.92 L691.6 379.93 L693.97 379.94 L696.34 379.95 L698.72 379.96 L701.09 379.97 L703.46 379.98 L705.83 379.98 L708.21 379.99 L710.58 380 L712.95 380.01 L715.32 380.02 L717.7 380.03 L720.07 380.04 L722.44 380.05 L724.82 380.06 L727.19 380.07 L729.56 380.08 L731.93 380.09 L734.31 380.1 L736.68 380.11 L739.05 380.12 L741.43 380.13 L743.8 380.14 L746.17 380.15 L748.54 380.16 L750.92 380.16 L753.29 380.17 L755.66 380.18 L758.04 380.19 L760.41 380.2 L762.78 380.21 L765.15 380.22 L767.53 380.23 L769.9 380.24 L772.27 380.25 L774.64 380.26 L777.02 380.27 L779.39 380.28 L781.76 380.29 L784.14 380.3 L786.51 380.31 L788.88 380.32 L791.25 380.33 L793.63 380.34 L796 380.34 L796 487.8Z" fill="#529bb4"/>
<path d="M499.4 369.8 L499.68 369.73 L499.96 369.64 L500.25 369.53 L500.53 369.38 L500.81 369.21 L501.09 369.01 L501.37 368.77 L501.65 368.5 L501.94 368.2 L502.22 367.86 L502.5 367.47 L502.78 367.04 L503.06 366.54 L503.34 365.98 L503.63 365.32 L503.91 364.55 L504.19 363.62 L504.47 362.46 L504.75 360.98 L505.04 359.01 L505.05 358.92 L505.06 358.83 L505.07 358.73 L505.08 358.64 L505.09 358.54 L505.1 358.45 L505.11 358.35 L505.12 358.25 L505.14 358.14 L505.15 358.04 L505.16 357.94 L505.17 357.83 L505.18 357.72 L505.19 357.61 L505.2 357.5 L505.21 357.39 L505.22 357.28 L505.24 357.16 L505.25 357.04 L505.26 356.93 L505.27 356.81 L505.28 356.68 L505.29 356.56 L505.3 356.43 L505.31 356.3 L505.32 356.17 L505.34 356.04 L505.35 355.91 L505.36 355.77 L505.37 355.63 L505.38 355.49 L505.39 355.35 L505.4 355.2 L505.41 355.06 L505.42 354.91 L505.44 354.75 L505.45 354.6 L505.46 354.44 L505.47 354.28 L505.48 354.12 L505.49 353.95 L505.5 353.79 L505.51 353.61 L505.52 353.44 L505.54 353.26 L505.55 353.08 L505.56 352.9 L505.57 352.71 L505.58 352.52 L505.59 352.33 L505.6 352.13 L505.61 351.93 L505.62 351.73 L505.64 351.52 L505.65 351.31 L505.66 351.09 L505.67 350.87 L505.68 350.65 L505.69 350.42 L505.7 350.19 L505.71 349.95 L505.72 349.71 L505.74 349.46 L505.75 349.21 L505.76 348.95 L505.77 348.69 L505.78 348.42 L505.79 348.15 L505.8 347.87 L505.81 347.58 L505.83 347.29 L505.84 347 L505.85 346.69 L505.86 346.38 L505.87 346.07 L505.88 345.74 L505.89 345.41 L505.9 345.07 L505.91 344.72 L505.93 344.37 L505.94 344.01 L505.95 343.63 L505.96 343.25 L505.97 342.86 L505.98 342.46 L505.99 342.05 L506 341.63 L506.01 341.2 L506.03 340.76 L506.04 340.31 L506.05 339.84 L506.06 339.36 L506.07 338.87 L506.08 338.36 L506.09 337.84 L506.1 337.31 L506.11 336.76 L506.13 336.19 L506.14 335.61 L506.15 335 L506.16 334.38 L506.17 333.74 L506.18 333.07 L506.19 332.39 L506.2 331.68 L506.21 330.95 L506.23 330.19 L506.24 329.4 L506.25 328.58 L506.26 327.73 L506.27 326.85 L506.28 325.94 L506.29 324.98 L506.3 323.99 L506.31 322.95 L506.33 321.87 L506.34 320.74 L506.35 319.57 L506.36 318.33 L506.37 317.05 L506.38 315.71 L506.39 314.31 L506.4 312.85 L506.41 311.35 L506.43 309.8 L506.44 308.22 L506.45 306.64 L506.46 305.09 L506.47 303.62 L506.48 302.3 L506.49 301.22 L506.5 300.46 L506.51 300.4 L506.53 300.4 L506.54 300.71 L506.55 301.59 L506.56 302.76 L506.57 304.15 L506.58 305.66 L506.59 307.23 L506.6 308.83 L506.61 310.41 L506.63 311.96 L506.64 313.46 L506.65 314.92 L506.66 316.31 L506.67 317.65 L506.68 318.94 L506.69 320.18 L506.7 321.36 L506.71 322.49 L506.73 323.59 L506.74 324.63 L506.75 325.64 L506.76 326.61 L506.77 327.55 L506.78 328.45 L506.79 329.32 L506.8 330.16 L506.81 330.97 L506.83 331.76 L506.84 332.53 L506.85 333.26 L506.86 333.98 L506.87 334.68 L506.88 335.36 L506.89 336.02 L506.9 336.66 L506.92 337.28 L506.93 337.89 L506.94 338.48 L506.95 339.06 L506.96 339.63 L506.97 340.18 L506.98 340.72 L506.99 341.25 L507 341.76 L507.02 342.27 L507.03 342.76 L507.04 343.24 L507.05 343.72 L507.06 344.18 L507.07 344.64 L507.08 345.08 L507.09 345.52 L507.1 345.95 L507.12 346.37 L507.13 346.79 L507.14 347.2 L507.15 347.6 L507.16 347.99 L507.17 348.38 L507.18 348.76 L507.19 349.13 L507.2 349.5 L507.22 349.86 L507.23 350.22 L507.24 350.57 L507.25 350.92 L507.26 351.26 L507.27 351.6 L507.28 351.93 L507.29 352.26 L507.3 352.58 L507.32 352.9 L507.33 353.21 L507.34 353.52 L507.35 353.83 L507.36 354.13 L507.37 354.43 L507.38 354.72 L507.39 355.02 L507.4 355.3 L507.42 355.59 L507.43 355.87 L507.44 356.14 L507.45 356.42 L507.46 356.69 L507.47 356.96 L507.48 357.22 L507.49 357.48 L507.5 357.74 L507.52 358 L507.53 358.25 L507.54 358.5 L507.55 358.75 L507.56 358.99 L507.57 359.24 L507.58 359.48 L507.59 359.71 L507.6 359.95 L507.62 360.18 L507.63 360.41 L507.64 360.64 L507.65 360.87 L507.66 361.09 L507.67 361.32 L507.68 361.54 L507.69 361.75 L507.7 361.97 L507.82 364.16 L507.94 366.17 L508.06 368.01 L508.18 369.72 L508.3 371.31 L508.42 372.78 L508.54 374.14 L508.65 375.4 L508.77 376.56 L508.89 377.63 L509.01 378.59 L509.13 379.47 L509.25 380.25 L509.37 380.94 L509.48 381.54 L509.6 382.06 L509.72 382.49 L509.84 382.85 L509.96 383.15 L510.08 383.38 L510.2 383.55 L510.31 383.68 L510.43 383.76 L510.55 383.8 L510.67 383.81 L510.79 383.8 L510.91 383.76 L511.03 383.7 L511.15 383.63 L511.26 383.55 L511.38 383.46 L511.5 383.36 L511.62 383.26 L511.74 383.15 L511.86 383.04 L511.98 382.93" fill="none" stroke="#529bb4" stroke-width="1.3" stroke-linejoin="round"/>
<path d="M499.4 487.8 L499.4 403.07 L499.68 402.15 L499.96 401.18 L500.25 400.17 L500.53 399.12 L500.81 398.02 L501.09 396.86 L501.37 395.63 L501.65 394.34 L501.94 392.98 L502.22 391.52 L502.5 389.97 L502.78 388.3 L503.06 386.5 L503.34 384.56 L503.63 382.42 L503.91 380.08 L504.19 377.46 L504.47 374.51 L504.75 371.11 L505.04 367.14 L505.05 366.96 L505.06 366.79 L505.07 366.62 L505.08 366.44 L505.09 366.26 L505.1 366.08 L505.11 365.9 L505.12 365.72 L505.14 365.54 L505.15 365.35 L505.16 365.17 L505.17 364.98 L505.18 364.79 L505.19 364.6 L505.2 364.41 L505.21 364.21 L505.22 364.02 L505.24 363.82 L505.25 363.62 L505.26 363.42 L505.27 363.22 L505.28 363.01 L505.29 362.81 L505.3 362.6 L505.31 362.39 L505.32 362.18 L505.34 361.97 L505.35 361.75 L505.36 361.53 L505.37 361.31 L505.38 361.09 L505.39 360.87 L505.4 360.64 L505.41 360.41 L505.42 360.18 L505.44 359.95 L505.45 359.71 L505.46 359.47 L505.47 359.23 L505.48 358.99 L505.49 358.75 L505.5 358.5 L505.51 358.25 L505.52 357.99 L505.54 357.74 L505.55 357.48 L505.56 357.21 L505.57 356.95 L505.58 356.68 L505.59 356.41 L505.6 356.13 L505.61 355.86 L505.62 355.58 L505.64 355.29 L505.65 355 L505.66 354.71 L505.67 354.41 L505.68 354.11 L505.69 353.81 L505.7 353.5 L505.71 353.19 L505.72 352.87 L505.74 352.55 L505.75 352.23 L505.76 351.9 L505.77 351.57 L505.78 351.23 L505.79 350.88 L505.8 350.53 L505.81 350.18 L505.83 349.82 L505.84 349.45 L505.85 349.08 L505.86 348.7 L505.87 348.32 L505.88 347.93 L505.89 347.53 L505.9 347.13 L505.91 346.72 L505.93 346.3 L505.94 345.87 L505.95 345.44 L505.96 344.99 L505.97 344.54 L505.98 344.08 L505.99 343.62 L506 343.14 L506.01 342.65 L506.03 342.15 L506.04 341.64 L506.05 341.12 L506.06 340.59 L506.07 340.04 L506.08 339.48 L506.09 338.91 L506.1 338.33 L506.11 337.73 L506.13 337.11 L506.14 336.48 L506.15 335.83 L506.16 335.17 L506.17 334.48 L506.18 333.78 L506.19 333.05 L506.2 332.3 L506.21 331.53 L506.23 330.73 L506.24 329.91 L506.25 329.05 L506.26 328.17 L506.27 327.26 L506.28 326.31 L506.29 325.33 L506.3 324.3 L506.31 323.24 L506.33 322.13 L506.34 320.98 L506.35 319.78 L506.36 318.53 L506.37 317.22 L506.38 315.86 L506.39 314.44 L506.4 312.97 L506.41 311.45 L506.43 309.89 L506.44 308.3 L506.45 306.71 L506.46 305.15 L506.47 303.67 L506.48 302.35 L506.49 301.5 L506.5 301.5 L506.51 301.5 L506.53 301.5 L506.54 301.5 L506.55 301.59 L506.56 302.77 L506.57 304.15 L506.58 305.66 L506.59 307.24 L506.6 308.83 L506.61 310.42 L506.63 311.97 L506.64 313.47 L506.65 314.92 L506.66 316.32 L506.67 317.66 L506.68 318.95 L506.69 320.19 L506.7 321.37 L506.71 322.51 L506.73 323.6 L506.74 324.65 L506.75 325.66 L506.76 326.63 L506.77 327.57 L506.78 328.47 L506.79 329.34 L506.8 330.18 L506.81 331 L506.83 331.79 L506.84 332.55 L506.85 333.29 L506.86 334.01 L506.87 334.71 L506.88 335.39 L506.89 336.05 L506.9 336.69 L506.92 337.32 L506.93 337.93 L506.94 338.53 L506.95 339.11 L506.96 339.67 L506.97 340.23 L506.98 340.77 L506.99 341.29 L507 341.81 L507.02 342.32 L507.03 342.81 L507.04 343.3 L507.05 343.77 L507.06 344.24 L507.07 344.69 L507.08 345.14 L507.09 345.58 L507.1 346.01 L507.12 346.44 L507.13 346.85 L507.14 347.26 L507.15 347.66 L507.16 348.06 L507.17 348.45 L507.18 348.83 L507.19 349.2 L507.2 349.57 L507.22 349.94 L507.23 350.3 L507.24 350.65 L507.25 351 L507.26 351.34 L507.27 351.68 L507.28 352.01 L507.29 352.34 L507.3 352.66 L507.32 352.98 L507.33 353.3 L507.34 353.61 L507.35 353.91 L507.36 354.21 L507.37 354.51 L507.38 354.81 L507.39 355.1 L507.4 355.39 L507.42 355.67 L507.43 355.95 L507.44 356.23 L507.45 356.5 L507.46 356.77 L507.47 357.04 L507.48 357.3 L507.49 357.56 L507.5 357.82 L507.52 358.08 L507.53 358.33 L507.54 358.58 L507.55 358.83 L507.56 359.07 L507.57 359.31 L507.58 359.55 L507.59 359.79 L507.6 360.03 L507.62 360.26 L507.63 360.49 L507.64 360.72 L507.65 360.94 L507.66 361.16 L507.67 361.39 L507.68 361.61 L507.69 361.82 L507.7 362.04 L507.82 364.21 L507.94 366.2 L508.06 368.03 L508.18 369.73 L508.3 371.31 L508.42 372.78 L508.54 374.17 L508.65 375.48 L508.77 376.72 L508.89 377.89 L509.01 379.01 L509.13 380.08 L509.25 381.09 L509.37 382.07 L509.48 383.01 L509.6 383.9 L509.72 384.77 L509.84 385.6 L509.96 386.41 L510.08 387.18 L510.2 387.93 L510.31 388.66 L510.43 389.37 L510.55 390.05 L510.67 390.72 L510.79 391.36 L510.91 391.99 L511.03 392.6 L511.15 393.2 L511.26 393.78 L511.38 394.34 L511.5 394.9 L511.62 395.44 L511.74 395.96 L511.86 396.48 L511.98 396.98 L512.09 397.47 L512.21 397.96 L512.33 398.43 L512.45 398.89 L512.57 399.35 L512.69 399.79 L512.81 400.23 L512.92 400.66 L513.04 401.08 L513.16 401.49 L513.28 401.9 L513.4 402.3 L513.52 402.69 L513.64 403.07 L513.76 403.45 L513.87 403.83 L513.99 404.19 L514.11 404.55 L514.23 404.91 L514.35 405.26 L514.47 405.6 L514.59 405.94 L514.7 406.28 L514.82 406.61 L514.94 406.93 L515.06 407.25 L515.18 407.57 L515.3 407.88 L515.42 408.19 L515.54 408.49 L515.65 408.79 L515.77 409.09 L515.89 409.38 L516.01 409.67 L516.13 409.95 L516.25 410.24 L516.37 410.51 L516.48 410.79 L516.6 411.06 L516.72 411.33 L516.84 411.59 L516.96 411.85 L517.08 412.11 L517.2 412.37 L517.79 413.61 L518.38 414.79 L518.98 415.9 L519.57 416.97 L520.16 417.99 L520.76 418.97 L521.35 419.9 L521.94 420.8 L522.53 421.67 L523.13 422.5 L523.72 423.31 L524.31 424.08 L524.91 424.84 L525.5 425.56 L526.09 426.27 L526.69 426.95 L527.28 427.62 L527.87 428.26 L528.47 428.89 L529.06 429.5 L529.65 430.1 L530.25 430.68 L530.84 431.25 L531.43 431.8 L532.03 432.34 L532.62 432.87 L533.21 433.38 L533.81 433.88 L534.4 434.38 L534.99 434.86 L535.59 435.33 L536.18 435.8 L536.77 436.25 L537.36 436.7 L537.96 437.13 L538.55 437.56 L539.14 437.98 L539.74 438.4 L540.33 438.8 L540.92 439.2 L541.52 439.59 L542.11 439.98 L542.7 440.36 L543.3 440.73 L543.89 441.1 L544.48 441.46 L545.08 441.81 L545.67 442.16 L546.26 442.51 L546.86 442.85 L547.45 443.18 L548.04 443.51 L548.64 443.84 L549.23 444.16 L549.82 444.47 L550.42 444.79 L551.01 445.09 L551.6 445.4 L552.19 445.7 L552.79 445.99 L553.38 446.29 L553.97 446.57 L554.57 446.86 L555.16 447.14 L555.75 447.42 L556.35 447.69 L556.94 447.96 L557.53 448.23 L558.13 448.5 L558.72 448.76 L561.09 449.78 L563.47 450.76 L565.84 451.69 L568.21 452.59 L570.58 453.46 L572.96 454.29 L575.33 455.09 L577.7 455.87 L580.08 456.62 L582.45 457.35 L584.82 458.06 L587.19 458.74 L589.57 459.41 L591.94 460.05 L594.31 460.68 L596.68 461.29 L599.06 461.89 L601.43 462.47 L603.8 463.03 L606.18 463.59 L608.55 464.13 L610.92 464.65 L613.29 465.17 L615.67 465.67 L618.04 466.17 L620.41 466.65 L622.79 467.12 L625.16 467.59 L627.53 468.04 L629.9 468.48 L632.28 468.92 L634.65 469.35 L637.02 469.77 L639.4 470.18 L641.77 470.59 L644.14 470.99 L646.51 471.38 L648.89 471.77 L651.26 472.15 L653.63 472.52 L656 472.89 L658.38 473.25 L660.75 473.6 L663.12 473.95 L665.5 474.3 L667.87 474.64 L670.24 474.97 L672.61 475.3 L674.99 475.63 L677.36 475.95 L679.73 476.26 L682.11 476.58 L684.48 476.88 L686.85 477.19 L689.22 477.49 L691.6 477.78 L693.97 478.07 L696.34 478.36 L698.72 478.65 L701.09 478.93 L703.46 479.21 L705.83 479.48 L708.21 479.75 L710.58 480.02 L712.95 480.29 L715.32 480.55 L717.7 480.81 L720.07 481.06 L722.44 481.32 L724.82 481.57 L727.19 481.82 L729.56 482.06 L731.93 482.3 L734.31 482.54 L736.68 482.78 L739.05 483.02 L741.43 483.25 L743.8 483.48 L746.17 483.71 L748.54 483.93 L750.92 484.16 L753.29 484.38 L755.66 484.6 L758.04 484.82 L760.41 485.03 L762.78 485.24 L765.15 485.46 L767.53 485.67 L769.9 485.87 L772.27 486.08 L774.64 486.28 L777.02 486.48 L779.39 486.68 L781.76 486.88 L784.14 487.08 L786.51 487.28 L788.88 487.47 L791.25 487.66 L793.63 487.8 L796 487.8 L796 487.8Z" fill="#85ba70"/>
<path d="M499.4 403.07 L499.68 402.15 L499.96 401.18 L500.25 400.17 L500.53 399.12 L500.81 398.02 L501.09 396.86 L501.37 395.63 L501.65 394.34 L501.94 392.98 L502.22 391.52 L502.5 389.97 L502.78 388.3 L503.06 386.5 L503.34 384.56 L503.63 382.42 L503.91 380.08 L504.19 377.46 L504.47 374.51 L504.75 371.11 L505.04 367.14 L505.05 366.96 L505.06 366.79 L505.07 366.62 L505.08 366.44 L505.09 366.26 L505.1 366.08 L505.11 365.9 L505.12 365.72 L505.14 365.54 L505.15 365.35 L505.16 365.17 L505.17 364.98 L505.18 364.79 L505.19 364.6 L505.2 364.41 L505.21 364.21 L505.22 364.02 L505.24 363.82 L505.25 363.62 L505.26 363.42 L505.27 363.22 L505.28 363.01 L505.29 362.81 L505.3 362.6 L505.31 362.39 L505.32 362.18 L505.34 361.97 L505.35 361.75 L505.36 361.53 L505.37 361.31 L505.38 361.09 L505.39 360.87 L505.4 360.64 L505.41 360.41 L505.42 360.18 L505.44 359.95 L505.45 359.71 L505.46 359.47 L505.47 359.23 L505.48 358.99 L505.49 358.75 L505.5 358.5 L505.51 358.25 L505.52 357.99 L505.54 357.74 L505.55 357.48 L505.56 357.21 L505.57 356.95 L505.58 356.68 L505.59 356.41 L505.6 356.13 L505.61 355.86 L505.62 355.58 L505.64 355.29 L505.65 355 L505.66 354.71 L505.67 354.41 L505.68 354.11 L505.69 353.81 L505.7 353.5 L505.71 353.19 L505.72 352.87 L505.74 352.55 L505.75 352.23 L505.76 351.9 L505.77 351.57 L505.78 351.23 L505.79 350.88 L505.8 350.53 L505.81 350.18 L505.83 349.82 L505.84 349.45 L505.85 349.08 L505.86 348.7 L505.87 348.32 L505.88 347.93 L505.89 347.53 L505.9 347.13 L505.91 346.72 L505.93 346.3 L505.94 345.87 L505.95 345.44 L505.96 344.99 L505.97 344.54 L505.98 344.08 L505.99 343.62 L506 343.14 L506.01 342.65 L506.03 342.15 L506.04 341.64 L506.05 341.12 L506.06 340.59 L506.07 340.04 L506.08 339.48 L506.09 338.91 L506.1 338.33 L506.11 337.73 L506.13 337.11 L506.14 336.48 L506.15 335.83 L506.16 335.17 L506.17 334.48 L506.18 333.78 L506.19 333.05 L506.2 332.3 L506.21 331.53 L506.23 330.73 L506.24 329.91 L506.25 329.05 L506.26 328.17 L506.27 327.26 L506.28 326.31 L506.29 325.33 L506.3 324.3 L506.31 323.24 L506.33 322.13 L506.34 320.98 L506.35 319.78 L506.36 318.53 L506.37 317.22 L506.38 315.86 L506.39 314.44 L506.4 312.97 L506.41 311.45 L506.43 309.89 L506.44 308.3 L506.45 306.71 L506.46 305.15 L506.47 303.67 L506.48 302.35 L506.49 302 L506.5 302 L506.51 302 L506.53 302 L506.54 302 L506.55 302 L506.56 302.77 L506.57 304.15 L506.58 305.66 L506.59 307.24 L506.6 308.83 L506.61 310.42 L506.63 311.97 L506.64 313.47 L506.65 314.92 L506.66 316.32 L506.67 317.66 L506.68 318.95 L506.69 320.19 L506.7 321.37 L506.71 322.51 L506.73 323.6 L506.74 324.65 L506.75 325.66 L506.76 326.63 L506.77 327.57 L506.78 328.47 L506.79 329.34 L506.8 330.18 L506.81 331 L506.83 331.79 L506.84 332.55 L506.85 333.29 L506.86 334.01 L506.87 334.71 L506.88 335.39 L506.89 336.05 L506.9 336.69 L506.92 337.32 L506.93 337.93 L506.94 338.53 L506.95 339.11 L506.96 339.67 L506.97 340.23 L506.98 340.77 L506.99 341.29 L507 341.81 L507.02 342.32 L507.03 342.81 L507.04 343.3 L507.05 343.77 L507.06 344.24 L507.07 344.69 L507.08 345.14 L507.09 345.58 L507.1 346.01 L507.12 346.44 L507.13 346.85 L507.14 347.26 L507.15 347.66 L507.16 348.06 L507.17 348.45 L507.18 348.83 L507.19 349.2 L507.2 349.57 L507.22 349.94 L507.23 350.3 L507.24 350.65 L507.25 351 L507.26 351.34 L507.27 351.68 L507.28 352.01 L507.29 352.34 L507.3 352.66 L507.32 352.98 L507.33 353.3 L507.34 353.61 L507.35 353.91 L507.36 354.21 L507.37 354.51 L507.38 354.81 L507.39 355.1 L507.4 355.39 L507.42 355.67 L507.43 355.95 L507.44 356.23 L507.45 356.5 L507.46 356.77 L507.47 357.04 L507.48 357.3 L507.49 357.56 L507.5 357.82 L507.52 358.08 L507.53 358.33 L507.54 358.58 L507.55 358.83 L507.56 359.07 L507.57 359.31 L507.58 359.55 L507.59 359.79 L507.6 360.03 L507.62 360.26 L507.63 360.49 L507.64 360.72 L507.65 360.94 L507.66 361.16 L507.67 361.39 L507.68 361.61 L507.69 361.82 L507.7 362.04 L507.82 364.21 L507.94 366.2 L508.06 368.03 L508.18 369.73 L508.3 371.31 L508.42 372.78 L508.54 374.17 L508.65 375.48 L508.77 376.72 L508.89 377.89 L509.01 379.01 L509.13 380.08 L509.25 381.09 L509.37 382.07 L509.48 383.01 L509.6 383.9 L509.72 384.77 L509.84 385.6 L509.96 386.41 L510.08 387.18 L510.2 387.93 L510.31 388.66 L510.43 389.37 L510.55 390.05 L510.67 390.72 L510.79 391.36 L510.91 391.99 L511.03 392.6 L511.15 393.2 L511.26 393.78 L511.38 394.34 L511.5 394.9 L511.62 395.44 L511.74 395.96 L511.86 396.48 L511.98 396.98 L512.09 397.47 L512.21 397.96 L512.33 398.43 L512.45 398.89 L512.57 399.35 L512.69 399.79 L512.81 400.23 L512.92 400.66 L513.04 401.08 L513.16 401.49 L513.28 401.9 L513.4 402.3 L513.52 402.69 L513.64 403.07 L513.76 403.45 L513.87 403.83 L513.99 404.19 L514.11 404.55 L514.23 404.91 L514.35 405.26 L514.47 405.6 L514.59 405.94 L514.7 406.28 L514.82 406.61 L514.94 406.93 L515.06 407.25 L515.18 407.57 L515.3 407.88 L515.42 408.19 L515.54 408.49 L515.65 408.79 L515.77 409.09 L515.89 409.38 L516.01 409.67 L516.13 409.95 L516.25 410.24 L516.37 410.51 L516.48 410.79 L516.6 411.06 L516.72 411.33 L516.84 411.59 L516.96 411.85 L517.08 412.11 L517.2 412.37 L517.79 413.61 L518.38 414.79 L518.98 415.9 L519.57 416.97 L520.16 417.99 L520.76 418.97 L521.35 419.9 L521.94 420.8 L522.53 421.67 L523.13 422.5 L523.72 423.31 L524.31 424.08 L524.91 424.84 L525.5 425.56 L526.09 426.27 L526.69 426.95 L527.28 427.62 L527.87 428.26 L528.47 428.89 L529.06 429.5 L529.65 430.1 L530.25 430.68 L530.84 431.25 L531.43 431.8 L532.03 432.34 L532.62 432.87 L533.21 433.38 L533.81 433.88 L534.4 434.38 L534.99 434.86 L535.59 435.33 L536.18 435.8 L536.77 436.25 L537.36 436.7 L537.96 437.13 L538.55 437.56 L539.14 437.98 L539.74 438.4 L540.33 438.8 L540.92 439.2 L541.52 439.59 L542.11 439.98 L542.7 440.36 L543.3 440.73 L543.89 441.1 L544.48 441.46 L545.08 441.81 L545.67 442.16 L546.26 442.51 L546.86 442.85 L547.45 443.18 L548.04 443.51 L548.64 443.84 L549.23 444.16 L549.82 444.47 L550.42 444.79 L551.01 445.09 L551.6 445.4 L552.19 445.7 L552.79 445.99 L553.38 446.29 L553.97 446.57 L554.57 446.86 L555.16 447.14 L555.75 447.42 L556.35 447.69 L556.94 447.96 L557.53 448.23 L558.13 448.5 L558.72 448.76 L561.09 449.78 L563.47 450.76 L565.84 451.69 L568.21 452.59 L570.58 453.46 L572.96 454.29 L575.33 455.09 L577.7 455.87 L580.08 456.62 L582.45 457.35 L584.82 458.06 L587.19 458.74 L589.57 459.41 L591.94 460.05 L594.31 460.68 L596.68 461.29 L599.06 461.89 L601.43 462.47 L603.8 463.03 L606.18 463.59 L608.55 464.13 L610.92 464.65 L613.29 465.17 L615.67 465.67 L618.04 466.17 L620.41 466.65 L622.79 467.12 L625.16 467.59 L627.53 468.04 L629.9 468.48 L632.28 468.92 L634.65 469.35 L637.02 469.77 L639.4 470.18 L641.77 470.59 L644.14 470.99 L646.51 471.38 L648.89 471.77 L651.26 472.15 L653.63 472.52 L656 472.89 L658.38 473.25 L660.75 473.6 L663.12 473.95 L665.5 474.3 L667.87 474.64 L670.24 474.97 L672.61 475.3 L674.99 475.63 L677.36 475.95 L679.73 476.26 L682.11 476.58 L684.48 476.88 L686.85 477.19 L689.22 477.49 L691.6 477.78 L693.97 478.07 L696.34 478.36 L698.72 478.65 L701.09 478.93 L703.46 479.21 L705.83 479.48 L708.21 479.75 L710.58 480.02 L712.95 480.29 L715.32 480.55 L717.7 480.81 L720.07 481.06 L722.44 481.32 L724.82 481.57 L727.19 481.82 L729.56 482.06 L731.93 482.3 L734.31 482.54 L736.68 482.78 L739.05 483.02 L741.43 483.25 L743.8 483.48 L746.17 483.71 L748.54 483.93 L750.92 484.16 L753.29 484.38 L755.66 484.6 L758.04 484.82 L760.41 485.03 L762.78 485.24 L765.15 485.46 L767.53 485.67 L769.9 485.87 L772.27 486.08 L774.64 486.28 L777.02 486.48 L779.39 486.68 L781.76 486.88 L784.14 487.08 L786.51 487.28 L788.88 487.47 L791.25 487.66 L793.63 487.8 L796 487.8" fill="none" stroke="#d2573e" stroke-width="0.7" stroke-dasharray="6 8"/>
</g>
<rect x="499.4" y="289.8" width="296.6" height="208.7" fill="none" stroke="#000" stroke-width="1.9"/>
<path d="M514.23 497.5v-0.8M514.23 290.8v0.8M529.06 497.5v-0.8M529.06 290.8v0.8M543.89 497.5v-0.8M543.89 290.8v0.8M558.72 497.5v-0.8M558.72 290.8v0.8M588.38 497.5v-0.8M588.38 290.8v0.8M603.21 497.5v-0.8M603.21 290.8v0.8M618.04 497.5v-0.8M618.04 290.8v0.8M632.87 497.5v-0.8M632.87 290.8v0.8M662.53 497.5v-0.8M662.53 290.8v0.8M677.36 497.5v-0.8M677.36 290.8v0.8M692.19 497.5v-0.8M692.19 290.8v0.8M707.02 497.5v-0.8M707.02 290.8v0.8M736.68 497.5v-0.8M736.68 290.8v0.8M751.51 497.5v-0.8M751.51 290.8v0.8M766.34 497.5v-0.8M766.34 290.8v0.8M781.17 497.5v-0.8M781.17 290.8v0.8" stroke="#000" stroke-width="1.3" fill="none"/>
<path d="M573.55 497.5v-1.9M573.55 290.8v1.9M647.7 497.5v-1.9M647.7 290.8v1.9M721.85 497.5v-1.9M721.85 290.8v1.9" stroke="#000" stroke-width="1.3" fill="none"/>
<path d="M500.4 302.2h0.9M795 302.2h-0.9M500.4 355h0.9M795 355h-0.9M500.4 407.8h0.9M795 407.8h-0.9M500.4 460.6h0.9M795 460.6h-0.9" stroke="#000" stroke-width="1.3" fill="none"/>
<path d="M500.4 328.6h2M795 328.6h-2M500.4 381.4h2M795 381.4h-2M500.4 434.2h2M795 434.2h-2M500.4 487h2M795 487h-2" stroke="#000" stroke-width="1.3" fill="none"/>
<text x="500" y="517.8" font-size="19.8" font-weight="bold" text-anchor="middle" fill="#000"  style="">0</text>
<text x="574.15" y="517.8" font-size="19.8" font-weight="bold" text-anchor="middle" fill="#000"  style="">50</text>
<text x="648.3" y="517.8" font-size="19.8" font-weight="bold" text-anchor="middle" fill="#000"  style="">100</text>
<text x="722.45" y="517.8" font-size="19.8" font-weight="bold" text-anchor="middle" fill="#000"  style="">150</text>
<text x="796.6" y="517.8" font-size="19.8" font-weight="bold" text-anchor="middle" fill="#000"  style="">200</text>
<text x="481" y="335.6" font-size="19.8" font-weight="bold" text-anchor="end" fill="#000"  style="">10</text>
<text x="481.6" y="327.8" font-size="13.5" font-weight="bold" text-anchor="start" fill="#000"  style="">-</text>
<text x="497" y="327.8" font-size="13.5" font-weight="bold" text-anchor="end" fill="#000"  style="">2</text>
<text x="481" y="388.4" font-size="19.8" font-weight="bold" text-anchor="end" fill="#000"  style="">10</text>
<text x="481.6" y="380.6" font-size="13.5" font-weight="bold" text-anchor="start" fill="#000"  style="">-</text>
<text x="497" y="380.6" font-size="13.5" font-weight="bold" text-anchor="end" fill="#000"  style="">4</text>
<text x="481" y="441.2" font-size="19.8" font-weight="bold" text-anchor="end" fill="#000"  style="">10</text>
<text x="481.6" y="433.4" font-size="13.5" font-weight="bold" text-anchor="start" fill="#000"  style="">-</text>
<text x="497" y="433.4" font-size="13.5" font-weight="bold" text-anchor="end" fill="#000"  style="">6</text>
<text x="481" y="494" font-size="19.8" font-weight="bold" text-anchor="end" fill="#000"  style="">10</text>
<text x="481.6" y="486.2" font-size="13.5" font-weight="bold" text-anchor="start" fill="#000"  style="">-</text>
<text x="497" y="486.2" font-size="13.5" font-weight="bold" text-anchor="end" fill="#000"  style="">8</text>
<text x="776" y="314.2" font-size="24" font-weight="bold" text-anchor="middle" fill="#000"  style="">(d)</text>
<text x="521.1" y="318.5" font-size="18.6" font-weight="bold" fill="#7db868" textLength="121" lengthAdjust="spacing">Lorentzian Fit</text>
<text x="549.8" y="334" font-size="18.6" font-weight="bold" fill="#4f99b5" textLength="60.6" lengthAdjust="spacing">Theory</text>
<text x="643.6" y="308.7" font-size="10" font-weight="normal" text-anchor="start" fill="#000"  style="">1</text>
<text x="613.4" y="328.3" font-size="10" font-weight="normal" text-anchor="start" fill="#000"  style="">2</text>
<text x="526.4" y="463.5" font-size="10" font-weight="normal" text-anchor="middle" fill="#000"  style="">1</text>
<text x="707.9" y="441.5" font-size="10" font-weight="normal" text-anchor="middle" fill="#000"  style="">2</text>
<text x="178.4" y="540.1" font-size="20" font-weight="bold" fill="#000" stroke="#fff" stroke-width="0.3" textLength="100.3" lengthAdjust="spacingAndGlyphs" style="">Frequency</text>
<g transform="translate(0 540.1)"><path d="M294.45 -14.7 Q283.75 -4.9 294.45 4.9 L295 4.55 Q287.32 -4.9 295 -14.35Z" fill="#000" stroke="#000" stroke-width="0.35" stroke-linejoin="round"/></g>
<text x="296.5" y="540.1" font-size="20" font-weight="bold" fill="#000" stroke="#fff" stroke-width="0.3" textLength="39" lengthAdjust="spacingAndGlyphs" style="">kHz</text>
<g transform="translate(0 540.1)"><path d="M337.65 -14.7 Q348.35 -4.9 337.65 4.9 L337.1 4.55 Q344.78 -4.9 337.1 -14.35Z" fill="#000" stroke="#000" stroke-width="0.35" stroke-linejoin="round"/></g>
<text x="574.4" y="540.5" font-size="20" font-weight="bold" fill="#000" stroke="#fff" stroke-width="0.3" textLength="100.3" lengthAdjust="spacingAndGlyphs" style="">Frequency</text>
<g transform="translate(0 540.5)"><path d="M690.45 -14.7 Q679.75 -4.9 690.45 4.9 L691 4.55 Q683.32 -4.9 691 -14.35Z" fill="#000" stroke="#000" stroke-width="0.35" stroke-linejoin="round"/></g>
<text x="692.5" y="540.5" font-size="20" font-weight="bold" fill="#000" stroke="#fff" stroke-width="0.3" textLength="39" lengthAdjust="spacingAndGlyphs" style="">kHz</text>
<g transform="translate(0 540.5)"><path d="M733.65 -14.7 Q744.35 -4.9 733.65 4.9 L733.1 4.55 Q740.78 -4.9 733.1 -14.35Z" fill="#000" stroke="#000" stroke-width="0.35" stroke-linejoin="round"/></g>
<g transform="translate(30.7 246.4) rotate(-90)"><text x="-0.1" y="0" font-size="21" font-weight="bold" stroke="#fff" stroke-width="0.3" textLength="113.3" lengthAdjust="spacingAndGlyphs" style="">Covariance</text><path d="M128.95 -16.5 Q116.65 -6.1 128.95 4.3 L129.5 3.95 Q120.21 -6.1 129.5 -16.15Z" fill="#000" stroke="#000" stroke-width="0.35" stroke-linejoin="round"/><text x="130.3" y="0" font-size="21" font-weight="bold" stroke="#fff" stroke-width="0.3" textLength="31.4" lengthAdjust="spacingAndGlyphs" style="">arb</text><circle cx="168.3" cy="-1.85" r="1.75" fill="#000"/><text x="182.4" y="0" font-size="21" font-weight="bold" stroke="#fff" stroke-width="0.3" textLength="50.3" lengthAdjust="spacingAndGlyphs" style="">units</text><path d="M235.35 -16.5 Q247.65 -6.1 235.35 4.3 L234.8 3.95 Q244.09 -6.1 234.8 -16.15Z" fill="#000" stroke="#000" stroke-width="0.35" stroke-linejoin="round"/></g>
<g transform="translate(30.2 540.2) rotate(-90)"><text x="0" y="0" font-size="20" font-weight="bold" stroke="#fff" stroke-width="0.3" textLength="58.9" lengthAdjust="spacingAndGlyphs" style="">Power</text><text x="67.5" y="0" font-size="20" font-weight="bold" stroke="#fff" stroke-width="0.3" textLength="91.6" lengthAdjust="spacingAndGlyphs" style="">Spectrum</text><path d="M174.45 -15.3 Q162.15 -5.5 174.45 4.3 L175 3.95 Q165.72 -5.5 175 -14.95Z" fill="#000" stroke="#000" stroke-width="0.35" stroke-linejoin="round"/><text x="175.9" y="0" font-size="20" font-weight="bold" stroke="#fff" stroke-width="0.3" textLength="30.1" lengthAdjust="spacingAndGlyphs" style="">arb</text><circle cx="210.8" cy="-1.8" r="1.7" fill="#000"/><text x="223.6" y="0" font-size="20" font-weight="bold" stroke="#fff" stroke-width="0.3" textLength="46.7" lengthAdjust="spacingAndGlyphs" style="">units</text><path d="M272.95 -15.3 Q284.05 -5.5 272.95 4.3 L272.4 3.95 Q280.49 -5.5 272.4 -14.95Z" fill="#000" stroke="#000" stroke-width="0.35" stroke-linejoin="round"/></g>
<g transform="translate(62 184.6) rotate(-90)"><path d="M0.4 -13.4 C1.2 -16.2 3.6 -18.3 7.6 -18 C11.5 -17.8 14 -19 16.6 -18.2 C19.6 -17.3 20 -13.6 17.4 -11.4 C15.2 -9.6 12.6 -8.6 9.6 -8.2 C11.6 -7.4 12.6 -5.2 13.6 -3.2 C14.8 -0.8 17 0.4 19 -0.8 C20.2 -1.6 20.9 -2.8 21.4 -3.9" fill="none" stroke="#000" stroke-width="1.5" stroke-linecap="round" stroke-linejoin="round"/><path d="M8.6 -17.8 C8.2 -12 6.2 -5 3.6 -0.3" fill="none" stroke="#000" stroke-width="2.0" stroke-linecap="round"/><text x="22.9" y="3.9" font-size="18.6" font-weight="bold" textLength="13.4" lengthAdjust="spacingAndGlyphs">F</text><text x="36.7" y="-1.3000000000000003" font-size="14.5" font-weight="bold" stroke="#fff" stroke-width="0.3" textLength="9.6" lengthAdjust="spacingAndGlyphs">a</text><text x="36.7" y="9.5" font-size="14" font-weight="bold" textLength="7.4" lengthAdjust="spacingAndGlyphs">z</text><text x="49.6" y="3.9" font-size="15" font-weight="normal">,</text><text x="55.4" y="3.9" font-size="18.6" font-weight="bold" textLength="13.4" lengthAdjust="spacingAndGlyphs">F</text><text x="70.1" y="-1.3000000000000003" font-size="14.5" font-weight="bold" stroke="#fff" stroke-width="0.3" textLength="9.6" lengthAdjust="spacingAndGlyphs">a</text><text x="70" y="9.5" font-size="14" font-weight="bold" textLength="7.4" lengthAdjust="spacingAndGlyphs">z</text><path d="M90.7 -20.1 Q78.95 -6.75 90.7 6.6 L91.25 6.25 Q82.98 -6.75 91.25 -19.75Z" fill="#000" stroke="#000" stroke-width="0.35" stroke-linejoin="round"/><path d="M95 -7.44 Q96.1 -11.05 99.1 -11.05 L109.3 -11.05" fill="none" stroke="#000" stroke-width="1.9" stroke-linecap="round"/><path d="M102.85 -11.05 Q101.8 -5.4 100.3 -1.03" fill="none" stroke="#000" stroke-width="2.3" stroke-linecap="round"/><path d="M113.1 -20.1 Q124.85 -6.75 113.1 6.6 L112.55 6.25 Q120.82 -6.75 112.55 -19.75Z" fill="#000" stroke="#000" stroke-width="0.35" stroke-linejoin="round"/></g>
<g transform="translate(447.5 174.3) rotate(-90)"><path d="M0.4 -13.4 C1.2 -16.2 3.6 -18.3 7.6 -18 C11.5 -17.8 14 -19 16.6 -18.2 C19.6 -17.3 20 -13.6 17.4 -11.4 C15.2 -9.6 12.6 -8.6 9.6 -8.2 C11.6 -7.4 12.6 -5.2 13.6 -3.2 C14.8 -0.8 17 0.4 19 -0.8 C20.2 -1.6 20.9 -2.8 21.4 -3.9" fill="none" stroke="#000" stroke-width="1.5" stroke-linecap="round" stroke-linejoin="round"/><path d="M8.6 -17.8 C8.2 -12 6.2 -5 3.6 -0.3" fill="none" stroke="#000" stroke-width="2.0" stroke-linecap="round"/><text x="22.9" y="3.9" font-size="18.6" font-weight="bold" textLength="13.4" lengthAdjust="spacingAndGlyphs">F</text><text x="37.9" y="-1.3000000000000003" font-size="14.5" font-weight="bold" stroke="#fff" stroke-width="0.3" textLength="10.0" lengthAdjust="spacingAndGlyphs">b</text><text x="36.7" y="9.5" font-size="14" font-weight="bold" textLength="7.4" lengthAdjust="spacingAndGlyphs">z</text><text x="49.6" y="3.9" font-size="15" font-weight="normal">,</text><text x="55.4" y="3.9" font-size="18.6" font-weight="bold" textLength="13.4" lengthAdjust="spacingAndGlyphs">F</text><text x="71.3" y="-1.3000000000000003" font-size="14.5" font-weight="bold" stroke="#fff" stroke-width="0.3" textLength="10.0" lengthAdjust="spacingAndGlyphs">b</text><text x="70" y="9.5" font-size="14" font-weight="bold" textLength="7.4" lengthAdjust="spacingAndGlyphs">z</text><path d="M93.3 -20.1 Q81.55 -6.75 93.3 6.6 L93.85 6.25 Q85.58 -6.75 93.85 -19.75Z" fill="#000" stroke="#000" stroke-width="0.35" stroke-linejoin="round"/><path d="M97.6 -7.44 Q98.7 -11.05 101.7 -11.05 L111.9 -11.05" fill="none" stroke="#000" stroke-width="1.9" stroke-linecap="round"/><path d="M105.45 -11.05 Q104.4 -5.4 102.9 -1.03" fill="none" stroke="#000" stroke-width="2.3" stroke-linecap="round"/><path d="M115.7 -20.1 Q127.45 -6.75 115.7 6.6 L115.15 6.25 Q123.42 -6.75 115.15 -19.75Z" fill="#000" stroke="#000" stroke-width="0.35" stroke-linejoin="round"/></g>
<g transform="translate(60.5 426.2) rotate(-90)"><text x="-0.6" y="0" font-size="27" font-weight="bold" textLength="14.6" lengthAdjust="spacingAndGlyphs">S</text><text x="13.7" y="-8.0" font-size="18.5" font-weight="bold" stroke="#fff" stroke-width="0.35" textLength="20.2" lengthAdjust="spacingAndGlyphs">aa</text><text x="14.5" y="5.0" font-size="17" font-weight="bold" stroke="#fff" stroke-width="0.3" textLength="18" lengthAdjust="spacingAndGlyphs">zz</text><path d="M42.8 -18.8 Q31.76 -6.3 42.8 6.2 L43.35 5.85 Q35.64 -6.3 43.35 -18.45Z" fill="#000" stroke="#000" stroke-width="0.35" stroke-linejoin="round"/><text x="45.6" y="0" font-size="27" font-weight="bold" stroke="#fff" stroke-width="0.55" textLength="10.6" lengthAdjust="spacingAndGlyphs">f</text><path d="M57.8 -18.8 Q68.84 -6.3 57.8 6.2 L57.25 5.85 Q64.96 -6.3 57.25 -18.45Z" fill="#000" stroke="#000" stroke-width="0.35" stroke-linejoin="round"/></g>
<g transform="translate(445.6 434.8) rotate(-90)"><text x="-0.6" y="0" font-size="27" font-weight="bold" textLength="14.6" lengthAdjust="spacingAndGlyphs">S</text><text x="13.4" y="-8.2" font-size="18.5" font-weight="bold" stroke="#fff" stroke-width="0.35" textLength="24.2" lengthAdjust="spacingAndGlyphs">bb</text><text x="14.5" y="5.0" font-size="17" font-weight="bold" stroke="#fff" stroke-width="0.3" textLength="18" lengthAdjust="spacingAndGlyphs">zz</text><path d="M44.6 -18.8 Q33.56 -6.3 44.6 6.2 L45.15 5.85 Q37.44 -6.3 45.15 -18.45Z" fill="#000" stroke="#000" stroke-width="0.35" stroke-linejoin="round"/><text x="46.699999999999996" y="0" font-size="27" font-weight="bold" stroke="#fff" stroke-width="0.55" textLength="10.6" lengthAdjust="spacingAndGlyphs">f</text><path d="M60.4 -18.8 Q71.44 -6.3 60.4 6.2 L59.85 5.85 Q67.56 -6.3 59.85 -18.45Z" fill="#000" stroke="#000" stroke-width="0.35" stroke-linejoin="round"/></g>
</svg></body></html>
